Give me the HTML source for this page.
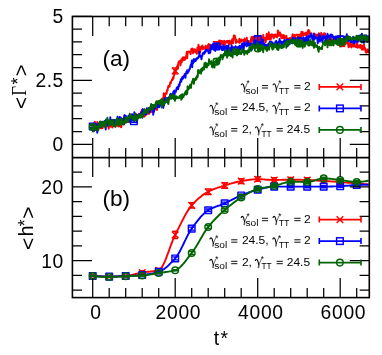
<!DOCTYPE html>
<html><head><meta charset="utf-8"><title>chart</title>
<style>
html,body{margin:0;padding:0;background:#fff;}
body{width:382px;height:355px;overflow:hidden;font-family:"Liberation Sans",sans-serif;}
svg{display:block;will-change:transform;opacity:0.999;}
</style></head><body>
<svg width="382" height="355" viewBox="0 0 382 355">
<clipPath id="c1"><rect x="72.4" y="16.5" width="296.9" height="141.1"/></clipPath>
<clipPath id="c2"><rect x="72.4" y="157.6" width="296.9" height="140.00000000000003"/></clipPath>
<g clip-path="url(#c1)" stroke-linejoin="round">
<path d="M92.7,128.5 L93.1,124.1 L93.5,124.4 L94.0,124.2 L94.4,128.1 L94.8,121.8 L95.2,130.1 L95.6,124.9 L96.1,127.2 L96.5,125.8 L96.9,129.8 L97.3,121.9 L97.7,125.6 L98.2,125.9 L98.6,129.2 L99.0,123.8 L99.4,126.2 L99.8,124.7 L100.3,127.1 L100.7,128.2 L101.1,124.1 L101.5,128.2 L101.9,127.5 L102.4,127.2 L102.8,127.9 L103.2,124.2 L103.6,125.0 L104.0,124.3 L104.5,125.2 L104.9,126.7 L105.3,123.5 L105.7,124.3 L106.1,124.1 L106.6,124.1 L107.0,124.3 L107.4,125.8 L107.8,122.9 L108.2,126.1 L108.7,128.8 L109.1,125.9 L109.5,123.8 L109.9,121.6 L110.3,121.9 L110.8,126.7 L111.2,123.6 L111.6,121.5 L112.0,123.4 L112.4,127.5 L112.9,124.1 L113.3,124.9 L113.7,123.8 L114.1,123.1 L114.5,121.5 L115.0,124.1 L115.4,123.7 L115.8,125.3 L116.2,125.8 L116.6,125.8 L117.1,124.3 L117.5,125.6 L117.9,122.2 L118.3,126.5 L118.7,126.2 L119.2,124.0 L119.6,125.9 L120.0,123.9 L120.4,126.9 L120.8,126.9 L121.3,127.3 L121.7,119.5 L122.1,119.5 L122.5,121.6 L122.9,122.0 L123.4,123.1 L123.8,120.8 L124.2,115.6 L124.6,119.5 L125.0,122.2 L125.5,120.6 L125.9,121.4 L126.3,120.5 L126.7,120.9 L127.1,122.0 L127.6,121.9 L128.0,121.7 L128.4,121.7 L128.8,119.9 L129.2,122.0 L129.7,120.7 L130.1,122.3 L130.5,122.3 L130.9,119.6 L131.3,117.7 L131.8,117.3 L132.2,118.9 L132.6,117.8 L133.0,116.9 L133.4,117.8 L133.9,115.8 L134.3,118.6 L134.7,115.8 L135.1,119.3 L135.5,117.3 L136.0,118.0 L136.4,115.1 L136.8,117.3 L137.2,117.9 L137.6,114.9 L138.1,116.2 L138.5,116.1 L138.9,113.6 L139.3,116.5 L139.7,117.2 L140.2,113.6 L140.6,115.9 L141.0,111.9 L141.4,113.3 L141.8,109.9 L142.3,115.6 L142.7,114.7 L143.1,112.5 L143.5,111.1 L143.9,115.2 L144.4,116.7 L144.8,109.3 L145.2,115.0 L145.6,115.4 L146.0,112.7 L146.5,110.0 L146.9,114.1 L147.3,112.1 L147.7,111.4 L148.1,110.0 L148.6,113.2 L149.0,114.0 L149.4,110.7 L149.8,112.2 L150.2,109.2 L150.7,112.4 L151.1,111.1 L151.5,110.5 L151.9,110.3 L152.3,111.7 L152.8,110.8 L153.2,111.0 L153.6,109.9 L154.0,109.8 L154.4,110.1 L154.9,109.0 L155.3,108.6 L155.7,106.5 L156.1,102.0 L156.5,108.2 L157.0,110.1 L157.4,106.2 L157.8,105.0 L158.2,104.2 L158.6,103.8 L159.1,103.4 L159.5,100.6 L159.9,101.6 L160.3,100.7 L160.7,101.8 L161.2,99.8 L161.6,100.4 L162.0,98.8 L162.4,100.2 L162.8,98.3 L163.3,100.8 L163.7,93.3 L164.1,95.2 L164.5,97.4 L164.9,99.3 L165.4,93.5 L165.8,93.3 L166.2,92.5 L166.6,93.9 L167.0,90.0 L167.5,90.6 L167.9,88.3 L168.3,85.9 L168.7,87.1 L169.1,86.1 L169.6,86.4 L170.0,83.2 L170.4,82.3 L170.8,83.2 L171.2,81.3 L171.7,80.6 L172.1,79.2 L172.5,79.9 L172.9,77.5 L173.3,78.8 L173.8,76.4 L174.2,74.7 L174.6,70.0 L175.0,72.5 L175.4,70.8 L175.9,70.4 L176.3,69.9 L176.7,66.9 L177.1,67.7 L177.5,65.3 L178.0,68.7 L178.4,62.6 L178.8,61.6 L179.2,61.3 L179.6,61.8 L180.1,60.7 L180.5,65.5 L180.9,61.1 L181.3,59.1 L181.7,62.6 L182.2,59.6 L182.6,57.5 L183.0,60.3 L183.4,59.3 L183.8,57.3 L184.3,60.1 L184.7,57.4 L185.1,59.7 L185.5,57.2 L185.9,57.9 L186.4,54.9 L186.8,51.7 L187.2,58.2 L187.6,52.4 L188.0,52.5 L188.5,51.5 L188.9,51.4 L189.3,51.7 L189.7,51.7 L190.1,52.3 L190.6,54.4 L191.0,51.4 L191.4,48.8 L191.8,49.5 L192.2,50.0 L192.7,48.6 L193.1,53.3 L193.5,50.8 L193.9,51.6 L194.3,51.8 L194.8,49.1 L195.2,49.9 L195.6,52.6 L196.0,52.3 L196.4,50.4 L196.9,53.9 L197.3,47.7 L197.7,49.2 L198.1,49.2 L198.5,44.6 L199.0,52.9 L199.4,49.8 L199.8,46.9 L200.2,52.3 L200.6,49.0 L201.1,48.7 L201.5,46.4 L201.9,48.1 L202.3,45.4 L202.7,49.2 L203.2,47.0 L203.6,47.4 L204.0,48.8 L204.4,47.4 L204.8,47.5 L205.3,47.7 L205.7,45.8 L206.1,48.8 L206.5,50.1 L206.9,48.3 L207.4,48.7 L207.8,45.5 L208.2,45.1 L208.6,43.9 L209.0,49.5 L209.5,46.7 L209.9,49.2 L210.3,44.7 L210.7,45.4 L211.1,46.2 L211.6,48.0 L212.0,45.8 L212.4,45.4 L212.8,45.2 L213.2,45.9 L213.7,43.6 L214.1,45.9 L214.5,45.1 L214.9,45.7 L215.3,46.7 L215.8,43.9 L216.2,44.6 L216.6,43.9 L217.0,45.4 L217.4,46.0 L217.9,42.4 L218.3,44.9 L218.7,47.6 L219.1,40.5 L219.5,41.4 L220.0,40.5 L220.4,42.0 L220.8,46.0 L221.2,42.5 L221.6,40.9 L222.1,43.5 L222.5,41.2 L222.9,44.5 L223.3,42.8 L223.7,44.8 L224.2,40.8 L224.6,47.0 L225.0,44.1 L225.4,43.3 L225.8,42.1 L226.3,41.2 L226.7,40.9 L227.1,42.1 L227.5,40.8 L227.9,42.7 L228.4,40.9 L228.8,43.9 L229.2,44.4 L229.6,40.6 L230.0,44.3 L230.5,41.5 L230.9,43.8 L231.3,42.5 L231.7,43.2 L232.1,39.2 L232.6,40.8 L233.0,43.3 L233.4,38.9 L233.8,35.5 L234.2,35.9 L234.7,35.5 L235.1,36.7 L235.5,40.1 L235.9,43.1 L236.3,39.4 L236.8,41.8 L237.2,41.3 L237.6,41.5 L238.0,41.7 L238.4,41.5 L238.9,42.5 L239.3,38.8 L239.7,42.9 L240.1,42.1 L240.5,39.7 L241.0,41.9 L241.4,39.5 L241.8,39.9 L242.2,40.9 L242.6,40.8 L243.1,40.0 L243.5,39.8 L243.9,40.6 L244.3,43.8 L244.7,38.5 L245.2,43.0 L245.6,42.2 L246.0,44.3 L246.4,44.4 L246.8,37.8 L247.3,43.9 L247.7,42.8 L248.1,41.8 L248.5,41.1 L248.9,43.5 L249.4,41.1 L249.8,44.6 L250.2,41.9 L250.6,44.6 L251.0,39.2 L251.5,37.0 L251.9,41.6 L252.3,41.5 L252.7,39.8 L253.1,36.8 L253.6,38.5 L254.0,40.6 L254.4,39.4 L254.8,40.0 L255.2,40.7 L255.7,39.1 L256.1,39.6 L256.5,37.4 L256.9,43.8 L257.3,39.6 L257.8,41.4 L258.2,38.8 L258.6,42.4 L259.0,37.1 L259.4,41.5 L259.9,39.5 L260.3,42.8 L260.7,35.7 L261.1,38.2 L261.5,39.0 L262.0,41.0 L262.4,38.2 L262.8,38.7 L263.2,34.9 L263.6,37.3 L264.1,38.9 L264.5,40.4 L264.9,37.9 L265.3,42.2 L265.7,42.1 L266.2,38.5 L266.6,34.0 L267.0,34.4 L267.4,35.6 L267.8,39.3 L268.3,37.4 L268.7,32.1 L269.1,36.3 L269.5,39.4 L269.9,35.6 L270.4,34.8 L270.8,39.7 L271.2,35.8 L271.6,34.3 L272.0,35.9 L272.5,35.5 L272.9,34.6 L273.3,37.5 L273.7,38.2 L274.1,36.9 L274.6,34.7 L275.0,36.9 L275.4,34.5 L275.8,35.0 L276.2,36.0 L276.7,35.4 L277.1,37.5 L277.5,34.4 L277.9,30.4 L278.3,31.7 L278.8,35.9 L279.2,33.2 L279.6,35.1 L280.0,32.4 L280.4,36.1 L280.9,34.2 L281.3,38.2 L281.7,34.9 L282.1,38.1 L282.5,37.2 L283.0,34.9 L283.4,38.4 L283.8,35.1 L284.2,35.5 L284.6,38.3 L285.1,36.8 L285.5,37.0 L285.9,37.2 L286.3,35.7 L286.7,40.4 L287.2,39.3 L287.6,38.8 L288.0,38.4 L288.4,39.5 L288.8,42.1 L289.3,40.3 L289.7,37.9 L290.1,40.1 L290.5,38.3 L290.9,38.7 L291.4,42.7 L291.8,37.3 L292.2,37.3 L292.6,34.1 L293.0,35.1 L293.5,38.4 L293.9,36.1 L294.3,38.3 L294.7,34.8 L295.1,35.8 L295.6,39.0 L296.0,40.3 L296.4,38.8 L296.8,40.1 L297.2,40.9 L297.7,40.1 L298.1,36.4 L298.5,37.9 L298.9,39.0 L299.3,36.9 L299.8,38.5 L300.2,34.6 L300.6,35.1 L301.0,37.3 L301.4,31.7 L301.9,33.3 L302.3,35.5 L302.7,31.9 L303.1,35.5 L303.5,33.6 L304.0,34.8 L304.4,34.6 L304.8,35.0 L305.2,33.0 L305.6,33.9 L306.1,32.4 L306.5,34.4 L306.9,36.3 L307.3,33.0 L307.7,32.8 L308.2,29.9 L308.6,33.6 L309.0,30.5 L309.4,30.8 L309.8,33.6 L310.3,33.4 L310.7,35.2 L311.1,36.2 L311.5,33.3 L311.9,35.0 L312.4,38.1 L312.8,37.3 L313.2,36.9 L313.6,38.0 L314.0,34.3 L314.5,36.8 L314.9,38.1 L315.3,38.3 L315.7,34.2 L316.1,35.5 L316.6,36.3 L317.0,34.9 L317.4,35.3 L317.8,37.6 L318.2,35.5 L318.7,33.1 L319.1,38.1 L319.5,36.7 L319.9,36.2 L320.3,34.7 L320.8,39.4 L321.2,32.8 L321.6,33.7 L322.0,36.6 L322.4,39.1 L322.9,38.9 L323.3,34.4 L323.7,36.0 L324.1,33.2 L324.5,37.9 L325.0,33.5 L325.4,36.4 L325.8,39.0 L326.2,37.0 L326.6,40.6 L327.1,36.4 L327.5,39.7 L327.9,40.8 L328.3,39.3 L328.7,42.7 L329.2,41.1 L329.6,37.5 L330.0,45.4 L330.4,41.5 L330.8,40.4 L331.3,38.0 L331.7,40.3 L332.1,39.4 L332.5,40.7 L332.9,40.3 L333.4,42.7 L333.8,39.9 L334.2,40.9 L334.6,40.2 L335.0,39.8 L335.5,40.0 L335.9,42.5 L336.3,41.7 L336.7,39.7 L337.1,39.3 L337.6,41.4 L338.0,43.4 L338.4,41.3 L338.8,44.7 L339.2,40.3 L339.7,42.4 L340.1,37.3 L340.5,41.1 L340.9,41.9 L341.3,44.1 L341.8,46.5 L342.2,43.2 L342.6,46.0 L343.0,45.1 L343.4,46.1 L343.9,43.1 L344.3,46.4 L344.7,41.6 L345.1,44.4 L345.5,41.7 L346.0,42.6 L346.4,40.4 L346.8,41.8 L347.2,43.9 L347.6,43.6 L348.1,41.2 L348.5,47.2 L348.9,45.2 L349.3,46.5 L349.7,46.5 L350.2,43.4 L350.6,40.8 L351.0,43.0 L351.4,47.5 L351.8,43.1 L352.3,46.5 L352.7,43.8 L353.1,45.8 L353.5,41.1 L353.9,46.6 L354.4,44.4 L354.8,46.3 L355.2,45.4 L355.6,47.1 L356.0,45.4 L356.5,47.2 L356.9,42.9 L357.3,44.0 L357.7,47.7 L358.1,46.1 L358.6,45.6 L359.0,46.2 L359.4,47.5 L359.8,45.2 L360.2,47.9 L360.7,44.9 L361.1,46.1 L361.5,48.4 L361.9,49.6 L362.3,45.6 L362.8,48.8 L363.2,45.6 L363.6,49.6 L364.0,44.8 L364.4,46.7 L364.9,48.3 L365.3,48.6 L365.7,52.3 L366.1,50.9 L366.5,52.8 L367.0,52.0 L367.4,49.4 L367.8,49.5 L368.2,52.1 L368.6,50.3 L369.1,49.8" stroke="#ff0000" stroke-width="1.9" fill="none"/>
<path d="M92.7,125.3V127.7M89.9,125.3H95.5M89.9,127.7H95.5" stroke="#ff0000" stroke-width="1.4" fill="none"/>
<path d="M89.4,123.2L96.0,129.8M89.4,129.8L96.0,123.2" stroke="#ff0000" stroke-width="1.45" fill="none"/>
<path d="M133.9,115.9V118.3M131.1,115.9H136.8M131.1,118.3H136.8" stroke="#ff0000" stroke-width="1.4" fill="none"/>
<path d="M130.6,113.8L137.2,120.4M130.6,120.4L137.2,113.8" stroke="#ff0000" stroke-width="1.45" fill="none"/>
<path d="M175.2,67.9V73.9M172.4,67.9H178.0M172.4,73.9H178.0" stroke="#ff0000" stroke-width="1.4" fill="none"/>
<path d="M171.9,67.6L178.5,74.2M171.9,74.2L178.5,67.6" stroke="#ff0000" stroke-width="1.45" fill="none"/>
<path d="M216.4,41.6V47.6M213.6,41.6H219.2M213.6,47.6H219.2" stroke="#ff0000" stroke-width="1.4" fill="none"/>
<path d="M213.1,41.3L219.8,47.9M213.1,47.9L219.8,41.3" stroke="#ff0000" stroke-width="1.45" fill="none"/>
<path d="M257.7,37.0V43.0M254.9,37.0H260.5M254.9,43.0H260.5" stroke="#ff0000" stroke-width="1.4" fill="none"/>
<path d="M254.4,36.7L261.0,43.3M254.4,43.3L261.0,36.7" stroke="#ff0000" stroke-width="1.45" fill="none"/>
<path d="M298.9,34.5V40.5M296.1,34.5H301.8M296.1,40.5H301.8" stroke="#ff0000" stroke-width="1.4" fill="none"/>
<path d="M295.6,34.2L302.2,40.8M295.6,40.8L302.2,34.2" stroke="#ff0000" stroke-width="1.45" fill="none"/>
<path d="M340.2,38.9V44.9M337.4,38.9H343.0M337.4,44.9H343.0" stroke="#ff0000" stroke-width="1.4" fill="none"/>
<path d="M336.9,38.6L343.5,45.2M336.9,45.2L343.5,38.6" stroke="#ff0000" stroke-width="1.45" fill="none"/>
<path d="M92.7,126.5 L93.1,127.9 L93.5,123.4 L94.0,131.3 L94.4,124.0 L94.8,126.1 L95.2,128.8 L95.6,124.9 L96.1,125.3 L96.5,125.9 L96.9,129.2 L97.3,132.8 L97.7,127.0 L98.2,123.8 L98.6,127.2 L99.0,124.5 L99.4,125.4 L99.8,127.2 L100.3,122.3 L100.7,124.7 L101.1,122.4 L101.5,123.9 L101.9,124.4 L102.4,121.6 L102.8,123.5 L103.2,123.4 L103.6,123.0 L104.0,121.7 L104.5,121.0 L104.9,124.5 L105.3,125.3 L105.7,129.5 L106.1,119.5 L106.6,124.4 L107.0,123.9 L107.4,125.7 L107.8,123.9 L108.2,120.9 L108.7,122.7 L109.1,123.1 L109.5,121.5 L109.9,123.5 L110.3,117.3 L110.8,124.6 L111.2,123.7 L111.6,120.2 L112.0,123.2 L112.4,122.2 L112.9,120.0 L113.3,121.6 L113.7,123.8 L114.1,120.6 L114.5,119.9 L115.0,120.6 L115.4,121.4 L115.8,124.0 L116.2,120.0 L116.6,122.3 L117.1,121.3 L117.5,116.8 L117.9,120.1 L118.3,120.5 L118.7,120.5 L119.2,121.0 L119.6,117.0 L120.0,121.3 L120.4,119.2 L120.8,117.4 L121.3,121.7 L121.7,122.1 L122.1,119.2 L122.5,122.1 L122.9,119.5 L123.4,120.0 L123.8,117.8 L124.2,124.2 L124.6,115.0 L125.0,120.0 L125.5,121.4 L125.9,115.9 L126.3,119.5 L126.7,119.8 L127.1,121.0 L127.6,121.6 L128.0,117.6 L128.4,115.8 L128.8,121.6 L129.2,121.4 L129.7,118.2 L130.1,119.8 L130.5,119.3 L130.9,119.5 L131.3,118.7 L131.8,120.7 L132.2,114.3 L132.6,120.1 L133.0,118.6 L133.4,117.1 L133.9,120.1 L134.3,112.2 L134.7,118.9 L135.1,116.6 L135.5,113.8 L136.0,117.2 L136.4,115.3 L136.8,122.0 L137.2,120.3 L137.6,117.6 L138.1,115.3 L138.5,115.9 L138.9,115.4 L139.3,114.7 L139.7,113.9 L140.2,114.3 L140.6,114.6 L141.0,113.1 L141.4,112.7 L141.8,111.4 L142.3,117.7 L142.7,109.0 L143.1,109.8 L143.5,112.7 L143.9,111.2 L144.4,113.1 L144.8,113.5 L145.2,114.5 L145.6,113.9 L146.0,110.8 L146.5,114.2 L146.9,108.2 L147.3,111.4 L147.7,110.5 L148.1,108.4 L148.6,111.5 L149.0,110.2 L149.4,112.3 L149.8,107.5 L150.2,111.2 L150.7,109.9 L151.1,108.2 L151.5,104.9 L151.9,107.7 L152.3,105.4 L152.8,105.0 L153.2,114.8 L153.6,110.9 L154.0,111.8 L154.4,107.3 L154.9,108.8 L155.3,108.7 L155.7,107.9 L156.1,107.2 L156.5,106.3 L157.0,102.1 L157.4,107.0 L157.8,105.2 L158.2,106.1 L158.6,103.4 L159.1,107.3 L159.5,103.2 L159.9,101.2 L160.3,105.8 L160.7,102.9 L161.2,101.3 L161.6,103.4 L162.0,104.3 L162.4,103.4 L162.8,104.2 L163.3,108.0 L163.7,104.2 L164.1,105.4 L164.5,98.2 L164.9,102.7 L165.4,102.7 L165.8,100.0 L166.2,98.1 L166.6,100.0 L167.0,99.1 L167.5,98.0 L167.9,100.8 L168.3,101.2 L168.7,98.7 L169.1,97.0 L169.6,98.2 L170.0,98.7 L170.4,98.1 L170.8,93.6 L171.2,94.5 L171.7,95.1 L172.1,94.7 L172.5,95.2 L172.9,96.0 L173.3,91.6 L173.8,92.0 L174.2,90.4 L174.6,94.9 L175.0,91.2 L175.4,91.4 L175.9,91.8 L176.3,89.4 L176.7,87.6 L177.1,87.7 L177.5,87.0 L178.0,89.3 L178.4,88.2 L178.8,84.4 L179.2,86.2 L179.6,85.3 L180.1,81.6 L180.5,82.4 L180.9,79.1 L181.3,81.5 L181.7,79.7 L182.2,77.3 L182.6,77.9 L183.0,78.7 L183.4,76.1 L183.8,76.7 L184.3,76.8 L184.7,73.9 L185.1,74.1 L185.5,77.8 L185.9,73.5 L186.4,71.8 L186.8,72.9 L187.2,70.2 L187.6,73.4 L188.0,70.9 L188.5,71.7 L188.9,70.6 L189.3,68.9 L189.7,69.4 L190.1,67.5 L190.6,65.3 L191.0,64.2 L191.4,64.3 L191.8,60.5 L192.2,67.2 L192.7,60.5 L193.1,63.3 L193.5,60.5 L193.9,59.0 L194.3,61.9 L194.8,61.0 L195.2,60.4 L195.6,61.1 L196.0,58.7 L196.4,59.5 L196.9,59.3 L197.3,57.7 L197.7,57.6 L198.1,58.3 L198.5,56.8 L199.0,56.5 L199.4,51.8 L199.8,56.1 L200.2,56.8 L200.6,55.6 L201.1,56.2 L201.5,59.3 L201.9,55.6 L202.3,56.1 L202.7,53.3 L203.2,53.2 L203.6,53.7 L204.0,52.1 L204.4,53.8 L204.8,51.5 L205.3,52.3 L205.7,49.7 L206.1,49.6 L206.5,50.8 L206.9,50.0 L207.4,50.1 L207.8,50.5 L208.2,50.5 L208.6,53.1 L209.0,53.3 L209.5,51.8 L209.9,49.6 L210.3,52.7 L210.7,46.8 L211.1,45.0 L211.6,49.2 L212.0,48.8 L212.4,48.0 L212.8,47.5 L213.2,44.5 L213.7,45.0 L214.1,49.6 L214.5,49.0 L214.9,45.9 L215.3,51.0 L215.8,45.3 L216.2,46.2 L216.6,48.1 L217.0,44.4 L217.4,46.3 L217.9,46.8 L218.3,46.5 L218.7,49.2 L219.1,48.7 L219.5,44.8 L220.0,45.9 L220.4,47.8 L220.8,47.9 L221.2,46.7 L221.6,49.2 L222.1,50.2 L222.5,47.3 L222.9,50.0 L223.3,45.2 L223.7,45.4 L224.2,49.8 L224.6,47.6 L225.0,47.0 L225.4,48.2 L225.8,47.1 L226.3,49.4 L226.7,45.6 L227.1,48.1 L227.5,53.9 L227.9,48.9 L228.4,45.4 L228.8,50.2 L229.2,49.9 L229.6,51.7 L230.0,49.3 L230.5,47.8 L230.9,51.7 L231.3,50.0 L231.7,45.3 L232.1,49.6 L232.6,48.1 L233.0,50.5 L233.4,47.3 L233.8,49.3 L234.2,48.0 L234.7,48.6 L235.1,47.2 L235.5,46.2 L235.9,46.9 L236.3,47.9 L236.8,47.5 L237.2,49.8 L237.6,47.2 L238.0,47.7 L238.4,50.3 L238.9,46.5 L239.3,47.6 L239.7,45.7 L240.1,46.6 L240.5,49.6 L241.0,47.0 L241.4,49.1 L241.8,44.1 L242.2,43.4 L242.6,46.9 L243.1,43.4 L243.5,50.7 L243.9,47.9 L244.3,42.5 L244.7,44.4 L245.2,43.7 L245.6,45.3 L246.0,44.4 L246.4,45.5 L246.8,46.2 L247.3,42.8 L247.7,41.0 L248.1,45.2 L248.5,43.9 L248.9,45.9 L249.4,43.7 L249.8,45.4 L250.2,44.4 L250.6,43.7 L251.0,43.5 L251.5,46.4 L251.9,49.8 L252.3,46.4 L252.7,43.7 L253.1,44.4 L253.6,43.0 L254.0,41.0 L254.4,43.6 L254.8,45.4 L255.2,42.1 L255.7,40.5 L256.1,43.1 L256.5,45.7 L256.9,44.3 L257.3,44.8 L257.8,47.8 L258.2,46.7 L258.6,44.7 L259.0,42.8 L259.4,43.9 L259.9,43.7 L260.3,45.4 L260.7,41.9 L261.1,46.7 L261.5,43.9 L262.0,42.7 L262.4,44.5 L262.8,39.5 L263.2,41.9 L263.6,43.3 L264.1,45.9 L264.5,43.8 L264.9,47.8 L265.3,44.7 L265.7,46.9 L266.2,44.9 L266.6,48.6 L267.0,46.0 L267.4,48.2 L267.8,45.2 L268.3,43.7 L268.7,44.4 L269.1,46.8 L269.5,42.4 L269.9,41.6 L270.4,43.5 L270.8,45.6 L271.2,41.6 L271.6,42.5 L272.0,43.8 L272.5,42.5 L272.9,44.1 L273.3,45.7 L273.7,43.8 L274.1,44.3 L274.6,45.5 L275.0,43.7 L275.4,41.7 L275.8,41.2 L276.2,40.9 L276.7,46.9 L277.1,43.4 L277.5,44.6 L277.9,44.7 L278.3,41.9 L278.8,44.3 L279.2,41.8 L279.6,39.0 L280.0,42.3 L280.4,40.8 L280.9,41.9 L281.3,44.0 L281.7,47.8 L282.1,41.7 L282.5,42.0 L283.0,43.2 L283.4,42.4 L283.8,42.2 L284.2,40.2 L284.6,39.9 L285.1,41.8 L285.5,40.4 L285.9,41.7 L286.3,40.1 L286.7,44.4 L287.2,39.4 L287.6,46.2 L288.0,41.1 L288.4,39.8 L288.8,39.7 L289.3,43.2 L289.7,44.1 L290.1,40.3 L290.5,42.2 L290.9,41.3 L291.4,41.1 L291.8,41.9 L292.2,43.4 L292.6,38.0 L293.0,37.7 L293.5,42.6 L293.9,41.9 L294.3,43.3 L294.7,38.9 L295.1,40.3 L295.6,44.9 L296.0,38.7 L296.4,41.6 L296.8,39.8 L297.2,40.1 L297.7,38.5 L298.1,43.3 L298.5,37.4 L298.9,38.4 L299.3,39.2 L299.8,43.1 L300.2,41.5 L300.6,42.5 L301.0,41.3 L301.4,41.9 L301.9,41.7 L302.3,43.6 L302.7,40.8 L303.1,37.3 L303.5,42.3 L304.0,40.4 L304.4,38.3 L304.8,39.7 L305.2,38.0 L305.6,43.8 L306.1,39.5 L306.5,36.4 L306.9,40.5 L307.3,38.7 L307.7,42.2 L308.2,40.0 L308.6,35.5 L309.0,37.9 L309.4,36.1 L309.8,36.7 L310.3,36.5 L310.7,33.6 L311.1,37.5 L311.5,35.2 L311.9,35.8 L312.4,38.3 L312.8,40.9 L313.2,36.1 L313.6,41.1 L314.0,33.5 L314.5,39.2 L314.9,37.1 L315.3,38.2 L315.7,36.7 L316.1,37.7 L316.6,38.0 L317.0,37.6 L317.4,39.7 L317.8,43.4 L318.2,37.8 L318.7,39.1 L319.1,36.2 L319.5,34.1 L319.9,41.6 L320.3,36.3 L320.8,37.4 L321.2,38.6 L321.6,40.2 L322.0,39.2 L322.4,42.4 L322.9,38.4 L323.3,35.4 L323.7,38.5 L324.1,38.2 L324.5,36.6 L325.0,37.5 L325.4,37.4 L325.8,41.0 L326.2,36.6 L326.6,35.5 L327.1,38.4 L327.5,33.6 L327.9,37.7 L328.3,37.5 L328.7,35.6 L329.2,35.8 L329.6,35.7 L330.0,39.1 L330.4,36.7 L330.8,34.5 L331.3,34.4 L331.7,36.4 L332.1,36.1 L332.5,35.1 L332.9,37.4 L333.4,36.7 L333.8,39.0 L334.2,38.0 L334.6,36.9 L335.0,38.5 L335.5,36.5 L335.9,39.3 L336.3,38.8 L336.7,37.3 L337.1,38.9 L337.6,37.6 L338.0,43.1 L338.4,37.1 L338.8,39.4 L339.2,39.7 L339.7,38.0 L340.1,39.3 L340.5,38.7 L340.9,39.7 L341.3,39.8 L341.8,41.2 L342.2,41.4 L342.6,39.3 L343.0,38.9 L343.4,39.4 L343.9,38.6 L344.3,36.7 L344.7,41.1 L345.1,39.5 L345.5,39.2 L346.0,36.3 L346.4,36.5 L346.8,34.3 L347.2,38.9 L347.6,40.4 L348.1,40.8 L348.5,39.0 L348.9,37.1 L349.3,39.8 L349.7,39.8 L350.2,41.4 L350.6,41.9 L351.0,40.4 L351.4,41.0 L351.8,42.1 L352.3,41.4 L352.7,40.7 L353.1,36.8 L353.5,40.1 L353.9,43.4 L354.4,41.1 L354.8,43.0 L355.2,40.4 L355.6,40.5 L356.0,41.5 L356.5,41.2 L356.9,40.7 L357.3,41.9 L357.7,41.9 L358.1,41.7 L358.6,36.0 L359.0,37.3 L359.4,37.8 L359.8,37.4 L360.2,35.2 L360.7,40.8 L361.1,36.4 L361.5,38.2 L361.9,33.7 L362.3,37.9 L362.8,37.7 L363.2,36.5 L363.6,39.5 L364.0,43.0 L364.4,36.5 L364.9,36.1 L365.3,40.6 L365.7,38.5 L366.1,37.1 L366.5,35.5 L367.0,39.3 L367.4,37.9 L367.8,40.9 L368.2,36.3 L368.6,38.1 L369.1,37.4" stroke="#0000ff" stroke-width="1.9" fill="none"/>
<path d="M92.7,125.3V127.7M89.9,125.3H95.5M89.9,127.7H95.5" stroke="#0000ff" stroke-width="1.4" fill="none"/>
<rect x="89.4" y="123.2" width="6.6" height="6.6" stroke="#0000ff" stroke-width="1.45" fill="none"/>
<path d="M133.9,119.9V122.3M131.1,119.9H136.8M131.1,122.3H136.8" stroke="#0000ff" stroke-width="1.4" fill="none"/>
<rect x="130.6" y="117.8" width="6.6" height="6.6" stroke="#0000ff" stroke-width="1.45" fill="none"/>
<path d="M216.4,43.4V49.4M213.6,43.4H219.2M213.6,49.4H219.2" stroke="#0000ff" stroke-width="1.4" fill="none"/>
<rect x="213.1" y="43.1" width="6.6" height="6.6" stroke="#0000ff" stroke-width="1.45" fill="none"/>
<path d="M257.7,36.0V42.0M254.9,36.0H260.5M254.9,42.0H260.5" stroke="#0000ff" stroke-width="1.4" fill="none"/>
<rect x="254.4" y="35.7" width="6.6" height="6.6" stroke="#0000ff" stroke-width="1.45" fill="none"/>
<path d="M298.9,38.4V44.4M296.1,38.4H301.8M296.1,44.4H301.8" stroke="#0000ff" stroke-width="1.4" fill="none"/>
<rect x="295.6" y="38.1" width="6.6" height="6.6" stroke="#0000ff" stroke-width="1.45" fill="none"/>
<path d="M340.2,36.2V42.2M337.4,36.2H343.0M337.4,42.2H343.0" stroke="#0000ff" stroke-width="1.4" fill="none"/>
<rect x="336.9" y="35.9" width="6.6" height="6.6" stroke="#0000ff" stroke-width="1.45" fill="none"/>
<path d="M92.7,132.4 L93.1,129.3 L93.5,129.2 L94.0,125.3 L94.4,128.6 L94.8,128.4 L95.2,128.7 L95.6,128.1 L96.1,128.7 L96.5,127.9 L96.9,126.5 L97.3,130.1 L97.7,129.4 L98.2,130.5 L98.6,126.6 L99.0,124.3 L99.4,124.0 L99.8,121.6 L100.3,126.9 L100.7,121.5 L101.1,121.8 L101.5,123.4 L101.9,127.2 L102.4,124.6 L102.8,122.0 L103.2,122.9 L103.6,125.6 L104.0,123.8 L104.5,122.0 L104.9,123.0 L105.3,124.8 L105.7,127.5 L106.1,120.0 L106.6,120.9 L107.0,120.8 L107.4,117.8 L107.8,121.7 L108.2,121.0 L108.7,125.4 L109.1,123.0 L109.5,120.0 L109.9,125.0 L110.3,123.1 L110.8,120.6 L111.2,123.6 L111.6,123.6 L112.0,123.1 L112.4,124.7 L112.9,119.6 L113.3,123.4 L113.7,126.1 L114.1,126.2 L114.5,126.3 L115.0,126.2 L115.4,126.9 L115.8,120.9 L116.2,124.4 L116.6,119.0 L117.1,121.4 L117.5,118.2 L117.9,124.5 L118.3,125.3 L118.7,121.6 L119.2,124.6 L119.6,119.8 L120.0,121.1 L120.4,121.0 L120.8,118.7 L121.3,122.0 L121.7,124.8 L122.1,118.9 L122.5,123.5 L122.9,121.0 L123.4,124.6 L123.8,121.9 L124.2,123.0 L124.6,122.4 L125.0,121.1 L125.5,117.7 L125.9,122.7 L126.3,117.1 L126.7,120.6 L127.1,121.2 L127.6,117.9 L128.0,119.3 L128.4,121.5 L128.8,119.1 L129.2,117.3 L129.7,113.8 L130.1,117.2 L130.5,117.5 L130.9,117.5 L131.3,115.7 L131.8,118.1 L132.2,116.7 L132.6,117.7 L133.0,119.2 L133.4,116.1 L133.9,116.8 L134.3,121.3 L134.7,118.6 L135.1,113.7 L135.5,117.1 L136.0,118.7 L136.4,120.3 L136.8,118.1 L137.2,116.6 L137.6,115.6 L138.1,118.3 L138.5,117.4 L138.9,114.8 L139.3,116.4 L139.7,116.1 L140.2,117.8 L140.6,114.5 L141.0,116.5 L141.4,116.8 L141.8,115.9 L142.3,113.1 L142.7,117.2 L143.1,112.9 L143.5,114.9 L143.9,112.6 L144.4,109.4 L144.8,113.2 L145.2,113.0 L145.6,112.3 L146.0,112.5 L146.5,110.0 L146.9,109.6 L147.3,109.9 L147.7,113.0 L148.1,111.2 L148.6,108.0 L149.0,109.7 L149.4,108.0 L149.8,107.8 L150.2,109.7 L150.7,106.7 L151.1,103.9 L151.5,105.9 L151.9,107.1 L152.3,106.8 L152.8,109.5 L153.2,104.9 L153.6,107.8 L154.0,106.5 L154.4,104.9 L154.9,106.0 L155.3,104.9 L155.7,102.8 L156.1,107.0 L156.5,101.2 L157.0,103.3 L157.4,103.1 L157.8,103.3 L158.2,100.9 L158.6,102.4 L159.1,101.4 L159.5,104.1 L159.9,100.6 L160.3,102.5 L160.7,101.5 L161.2,99.5 L161.6,107.6 L162.0,102.7 L162.4,99.7 L162.8,105.4 L163.3,100.3 L163.7,102.9 L164.1,104.6 L164.5,101.9 L164.9,102.1 L165.4,101.5 L165.8,102.0 L166.2,98.2 L166.6,98.8 L167.0,101.3 L167.5,102.8 L167.9,102.2 L168.3,104.1 L168.7,101.5 L169.1,98.2 L169.6,98.6 L170.0,94.4 L170.4,96.2 L170.8,95.5 L171.2,98.2 L171.7,98.8 L172.1,96.2 L172.5,96.7 L172.9,94.5 L173.3,97.5 L173.8,98.9 L174.2,99.1 L174.6,95.6 L175.0,100.8 L175.4,99.4 L175.9,97.2 L176.3,96.3 L176.7,97.0 L177.1,98.2 L177.5,97.2 L178.0,97.5 L178.4,97.7 L178.8,98.2 L179.2,98.1 L179.6,95.9 L180.1,96.9 L180.5,95.8 L180.9,94.9 L181.3,99.8 L181.7,94.7 L182.2,98.6 L182.6,94.2 L183.0,95.1 L183.4,97.0 L183.8,95.0 L184.3,95.3 L184.7,93.4 L185.1,92.3 L185.5,92.5 L185.9,91.0 L186.4,94.6 L186.8,91.1 L187.2,93.9 L187.6,86.2 L188.0,89.7 L188.5,89.3 L188.9,87.1 L189.3,88.3 L189.7,87.0 L190.1,84.8 L190.6,84.9 L191.0,88.0 L191.4,83.8 L191.8,83.2 L192.2,81.2 L192.7,81.4 L193.1,78.6 L193.5,80.3 L193.9,83.8 L194.3,80.2 L194.8,78.9 L195.2,79.3 L195.6,80.1 L196.0,77.4 L196.4,79.3 L196.9,77.0 L197.3,75.2 L197.7,77.1 L198.1,69.9 L198.5,72.3 L199.0,73.4 L199.4,71.4 L199.8,72.0 L200.2,70.2 L200.6,69.5 L201.1,73.7 L201.5,69.8 L201.9,68.5 L202.3,70.8 L202.7,67.8 L203.2,69.0 L203.6,67.2 L204.0,69.6 L204.4,63.3 L204.8,67.1 L205.3,65.5 L205.7,62.8 L206.1,67.3 L206.5,63.4 L206.9,67.5 L207.4,64.5 L207.8,64.3 L208.2,63.3 L208.6,65.2 L209.0,59.2 L209.5,63.1 L209.9,61.2 L210.3,63.7 L210.7,63.2 L211.1,64.1 L211.6,61.1 L212.0,66.5 L212.4,67.4 L212.8,63.2 L213.2,63.6 L213.7,64.0 L214.1,66.1 L214.5,67.7 L214.9,61.4 L215.3,62.4 L215.8,61.0 L216.2,61.0 L216.6,60.0 L217.0,63.2 L217.4,59.9 L217.9,63.5 L218.3,61.7 L218.7,58.1 L219.1,57.4 L219.5,57.3 L220.0,60.5 L220.4,56.4 L220.8,54.9 L221.2,56.9 L221.6,57.0 L222.1,55.2 L222.5,59.3 L222.9,56.8 L223.3,57.1 L223.7,54.0 L224.2,55.7 L224.6,54.8 L225.0,51.1 L225.4,55.4 L225.8,50.8 L226.3,54.4 L226.7,51.2 L227.1,57.7 L227.5,54.7 L227.9,55.6 L228.4,55.5 L228.8,51.6 L229.2,49.3 L229.6,53.6 L230.0,55.6 L230.5,54.5 L230.9,56.0 L231.3,56.1 L231.7,52.1 L232.1,54.7 L232.6,57.6 L233.0,52.2 L233.4,48.9 L233.8,52.6 L234.2,52.3 L234.7,54.3 L235.1,51.5 L235.5,53.1 L235.9,48.5 L236.3,54.2 L236.8,55.3 L237.2,55.3 L237.6,50.3 L238.0,54.2 L238.4,49.1 L238.9,54.0 L239.3,53.2 L239.7,50.6 L240.1,53.4 L240.5,52.7 L241.0,54.2 L241.4,52.7 L241.8,53.0 L242.2,48.9 L242.6,49.9 L243.1,51.1 L243.5,52.5 L243.9,52.0 L244.3,54.8 L244.7,50.8 L245.2,51.9 L245.6,52.8 L246.0,51.3 L246.4,52.8 L246.8,50.9 L247.3,54.0 L247.7,50.5 L248.1,52.3 L248.5,50.2 L248.9,52.4 L249.4,47.2 L249.8,49.8 L250.2,47.5 L250.6,48.8 L251.0,51.0 L251.5,45.7 L251.9,44.8 L252.3,45.4 L252.7,47.9 L253.1,44.2 L253.6,47.7 L254.0,45.2 L254.4,45.2 L254.8,47.3 L255.2,48.8 L255.7,46.4 L256.1,47.0 L256.5,47.8 L256.9,47.5 L257.3,42.2 L257.8,46.4 L258.2,47.0 L258.6,49.4 L259.0,51.4 L259.4,48.1 L259.9,46.9 L260.3,45.2 L260.7,47.4 L261.1,48.7 L261.5,49.6 L262.0,44.7 L262.4,47.8 L262.8,49.8 L263.2,52.2 L263.6,48.9 L264.1,47.0 L264.5,47.3 L264.9,48.0 L265.3,46.9 L265.7,49.4 L266.2,49.6 L266.6,49.3 L267.0,51.0 L267.4,47.3 L267.8,48.5 L268.3,47.1 L268.7,47.6 L269.1,49.9 L269.5,46.6 L269.9,42.8 L270.4,46.4 L270.8,45.6 L271.2,44.0 L271.6,45.6 L272.0,48.0 L272.5,49.7 L272.9,45.0 L273.3,47.9 L273.7,48.5 L274.1,44.1 L274.6,46.5 L275.0,46.9 L275.4,47.0 L275.8,43.6 L276.2,46.0 L276.7,47.9 L277.1,49.1 L277.5,49.6 L277.9,45.6 L278.3,50.1 L278.8,47.7 L279.2,43.7 L279.6,47.5 L280.0,44.9 L280.4,46.6 L280.9,45.6 L281.3,48.0 L281.7,47.1 L282.1,45.4 L282.5,47.8 L283.0,46.2 L283.4,44.5 L283.8,47.4 L284.2,44.1 L284.6,43.9 L285.1,44.3 L285.5,42.1 L285.9,43.0 L286.3,47.7 L286.7,41.4 L287.2,43.1 L287.6,41.0 L288.0,41.6 L288.4,45.4 L288.8,44.0 L289.3,41.0 L289.7,42.1 L290.1,40.1 L290.5,40.1 L290.9,40.2 L291.4,40.0 L291.8,42.7 L292.2,43.3 L292.6,42.8 L293.0,41.7 L293.5,39.6 L293.9,42.5 L294.3,40.9 L294.7,44.2 L295.1,43.5 L295.6,44.4 L296.0,42.3 L296.4,39.2 L296.8,44.6 L297.2,44.7 L297.7,40.0 L298.1,43.3 L298.5,45.5 L298.9,40.4 L299.3,45.9 L299.8,42.1 L300.2,41.2 L300.6,46.3 L301.0,44.7 L301.4,42.6 L301.9,45.7 L302.3,40.5 L302.7,47.9 L303.1,42.7 L303.5,44.9 L304.0,43.7 L304.4,45.7 L304.8,46.7 L305.2,43.0 L305.6,44.9 L306.1,42.2 L306.5,42.4 L306.9,43.3 L307.3,41.8 L307.7,41.7 L308.2,45.4 L308.6,43.3 L309.0,45.9 L309.4,44.2 L309.8,40.9 L310.3,39.4 L310.7,42.5 L311.1,45.0 L311.5,43.7 L311.9,41.9 L312.4,45.6 L312.8,41.0 L313.2,41.4 L313.6,44.0 L314.0,47.9 L314.5,45.0 L314.9,42.6 L315.3,45.8 L315.7,46.3 L316.1,46.9 L316.6,45.3 L317.0,45.2 L317.4,46.9 L317.8,47.5 L318.2,50.5 L318.7,51.8 L319.1,46.8 L319.5,47.5 L319.9,48.5 L320.3,48.3 L320.8,48.9 L321.2,48.4 L321.6,47.4 L322.0,49.0 L322.4,46.0 L322.9,44.3 L323.3,42.7 L323.7,43.3 L324.1,42.9 L324.5,40.9 L325.0,45.4 L325.4,44.3 L325.8,43.6 L326.2,42.6 L326.6,41.3 L327.1,42.1 L327.5,47.2 L327.9,39.4 L328.3,44.0 L328.7,44.7 L329.2,43.7 L329.6,42.6 L330.0,44.8 L330.4,41.2 L330.8,43.7 L331.3,45.4 L331.7,40.1 L332.1,40.6 L332.5,42.8 L332.9,44.8 L333.4,45.5 L333.8,44.0 L334.2,40.8 L334.6,40.5 L335.0,42.8 L335.5,43.4 L335.9,40.7 L336.3,42.7 L336.7,43.2 L337.1,44.4 L337.6,40.6 L338.0,42.8 L338.4,39.4 L338.8,41.3 L339.2,42.2 L339.7,44.7 L340.1,46.6 L340.5,42.2 L340.9,42.4 L341.3,43.7 L341.8,39.8 L342.2,44.0 L342.6,40.2 L343.0,45.1 L343.4,44.4 L343.9,42.1 L344.3,39.2 L344.7,43.9 L345.1,41.2 L345.5,40.1 L346.0,41.4 L346.4,36.4 L346.8,40.2 L347.2,41.1 L347.6,38.8 L348.1,38.7 L348.5,36.1 L348.9,39.1 L349.3,38.3 L349.7,38.2 L350.2,37.1 L350.6,39.6 L351.0,39.5 L351.4,38.1 L351.8,38.3 L352.3,39.1 L352.7,39.8 L353.1,38.2 L353.5,37.3 L353.9,37.2 L354.4,38.4 L354.8,38.9 L355.2,39.1 L355.6,37.2 L356.0,38.3 L356.5,35.7 L356.9,40.0 L357.3,36.9 L357.7,38.6 L358.1,35.8 L358.6,37.5 L359.0,36.6 L359.4,40.6 L359.8,38.0 L360.2,37.5 L360.7,35.5 L361.1,36.6 L361.5,39.7 L361.9,42.6 L362.3,36.7 L362.8,37.2 L363.2,38.4 L363.6,37.0 L364.0,35.1 L364.4,38.2 L364.9,39.7 L365.3,35.3 L365.7,38.5 L366.1,40.2 L366.5,39.9 L367.0,36.9 L367.4,41.8 L367.8,39.3 L368.2,37.2 L368.6,40.6 L369.1,37.0" stroke="#006400" stroke-width="1.9" fill="none"/>
<path d="M92.7,125.8V128.2M89.9,125.8H95.5M89.9,128.2H95.5" stroke="#006400" stroke-width="1.4" fill="none"/>
<circle cx="92.7" cy="127.0" r="3.3" stroke="#006400" stroke-width="1.45" fill="none"/>
<path d="M216.4,58.6V64.6M213.6,58.6H219.2M213.6,64.6H219.2" stroke="#006400" stroke-width="1.4" fill="none"/>
<circle cx="216.4" cy="61.6" r="3.3" stroke="#006400" stroke-width="1.45" fill="none"/>
<path d="M257.7,45.4V51.4M254.9,45.4H260.5M254.9,51.4H260.5" stroke="#006400" stroke-width="1.4" fill="none"/>
<circle cx="257.7" cy="48.4" r="3.3" stroke="#006400" stroke-width="1.45" fill="none"/>
<path d="M298.9,40.6V46.6M296.1,40.6H301.8M296.1,46.6H301.8" stroke="#006400" stroke-width="1.4" fill="none"/>
<circle cx="298.9" cy="43.6" r="3.3" stroke="#006400" stroke-width="1.45" fill="none"/>
<path d="M340.2,38.7V44.7M337.4,38.7H343.0M337.4,44.7H343.0" stroke="#006400" stroke-width="1.4" fill="none"/>
<circle cx="340.2" cy="41.7" r="3.3" stroke="#006400" stroke-width="1.45" fill="none"/>
</g>
<g clip-path="url(#c2)" stroke-linejoin="round">
<path d="M92.7,275.7 L93.7,275.8 L94.7,275.9 L95.7,276.0 L96.7,276.1 L97.7,276.1 L98.7,276.2 L99.7,276.3 L100.7,276.3 L101.7,276.4 L102.7,276.4 L103.7,276.5 L104.7,276.5 L105.7,276.6 L106.7,276.6 L107.7,276.6 L108.7,276.6 L109.7,276.6 L110.7,276.6 L111.7,276.6 L112.7,276.6 L113.7,276.5 L114.7,276.5 L115.7,276.5 L116.7,276.5 L117.7,276.4 L118.7,276.4 L119.7,276.3 L120.7,276.3 L121.7,276.2 L122.7,276.2 L123.7,276.1 L124.7,276.1 L125.7,276.0 L126.7,275.9 L127.7,275.8 L128.7,275.6 L129.7,275.5 L130.7,275.3 L131.7,275.0 L132.7,274.8 L133.7,274.5 L134.7,274.3 L135.7,274.0 L136.7,273.7 L137.7,273.5 L138.7,273.2 L139.7,273.0 L140.7,272.8 L141.7,272.6 L142.7,272.4 L143.7,272.3 L144.7,272.1 L145.7,272.0 L146.7,271.9 L147.7,271.8 L148.7,271.7 L149.7,271.6 L150.7,271.5 L151.7,271.4 L152.7,271.3 L153.7,271.2 L154.7,271.0 L155.7,270.9 L156.7,270.7 L157.7,270.4 L158.7,270.2 L159.7,269.7 L160.7,268.8 L161.7,267.5 L162.7,265.8 L163.7,263.9 L164.7,261.7 L165.7,259.3 L166.7,256.7 L167.7,254.0 L168.7,251.3 L169.7,248.5 L170.7,245.7 L171.7,243.1 L172.7,240.5 L173.7,238.1 L174.7,235.9 L175.7,233.9 L176.7,231.9 L177.7,229.9 L178.7,227.9 L179.7,225.9 L180.7,223.9 L181.7,221.9 L182.7,219.9 L183.7,218.0 L184.7,216.1 L185.7,214.3 L186.7,212.6 L187.7,210.9 L188.7,209.4 L189.7,207.9 L190.7,206.6 L191.7,205.4 L192.7,204.3 L193.7,203.2 L194.7,202.2 L195.7,201.2 L196.7,200.2 L197.7,199.2 L198.7,198.3 L199.7,197.5 L200.7,196.7 L201.7,195.9 L202.7,195.1 L203.7,194.4 L204.7,193.7 L205.7,193.1 L206.7,192.5 L207.7,192.0 L208.7,191.4 L209.7,191.0 L210.7,190.5 L211.7,190.0 L212.7,189.6 L213.7,189.2 L214.7,188.8 L215.7,188.4 L216.7,188.1 L217.7,187.7 L218.7,187.4 L219.7,187.1 L220.7,186.8 L221.7,186.4 L222.7,186.1 L223.7,185.8 L224.7,185.5 L225.7,185.2 L226.7,184.9 L227.7,184.6 L228.7,184.3 L229.7,183.9 L230.7,183.6 L231.7,183.3 L232.7,183.1 L233.7,182.8 L234.7,182.5 L235.7,182.3 L236.7,182.0 L237.7,181.8 L238.7,181.6 L239.7,181.4 L240.7,181.2 L241.7,181.0 L242.7,180.9 L243.7,180.7 L244.7,180.5 L245.7,180.4 L246.7,180.2 L247.7,180.1 L248.7,179.9 L249.7,179.8 L250.7,179.7 L251.7,179.5 L252.7,179.4 L253.7,179.4 L254.7,179.3 L255.7,179.2 L256.7,179.2 L257.7,179.2 L258.7,179.2 L259.7,179.2 L260.7,179.3 L261.7,179.3 L262.7,179.4 L263.7,179.4 L264.7,179.5 L265.7,179.6 L266.7,179.7 L267.7,179.7 L268.7,179.8 L269.7,179.9 L270.7,179.9 L271.7,180.0 L272.7,180.0 L273.7,180.0 L274.7,180.0 L275.7,180.0 L276.7,180.0 L277.7,180.0 L278.7,179.9 L279.7,179.9 L280.7,179.9 L281.7,179.9 L282.7,179.8 L283.7,179.8 L284.7,179.8 L285.7,179.8 L286.7,179.7 L287.7,179.7 L288.7,179.7 L289.7,179.7 L290.7,179.7 L291.7,179.7 L292.7,179.7 L293.7,179.7 L294.7,179.7 L295.7,179.7 L296.7,179.8 L297.7,179.8 L298.7,179.8 L299.7,179.8 L300.7,179.8 L301.7,179.9 L302.7,179.9 L303.7,179.9 L304.7,179.9 L305.7,180.0 L306.7,180.0 L307.7,180.0 L308.7,180.1 L309.7,180.1 L310.7,180.1 L311.7,180.2 L312.7,180.3 L313.7,180.3 L314.7,180.4 L315.7,180.4 L316.7,180.5 L317.7,180.6 L318.7,180.7 L319.7,180.7 L320.7,180.8 L321.7,180.9 L322.7,180.9 L323.7,181.0 L324.7,181.1 L325.7,181.1 L326.7,181.2 L327.7,181.2 L328.7,181.3 L329.7,181.3 L330.7,181.4 L331.7,181.5 L332.7,181.5 L333.7,181.6 L334.7,181.6 L335.7,181.7 L336.7,181.8 L337.7,181.8 L338.7,181.9 L339.7,182.0 L340.7,182.0 L341.7,182.1 L342.7,182.2 L343.7,182.3 L344.7,182.4 L345.7,182.5 L346.7,182.6 L347.7,182.7 L348.7,182.8 L349.7,182.8 L350.7,182.9 L351.7,183.0 L352.7,183.1 L353.7,183.2 L354.7,183.3 L355.7,183.4 L356.7,183.5 L357.7,183.6 L358.7,183.7 L359.7,183.7 L360.7,183.8 L361.7,183.9 L362.7,184.0 L363.7,184.1 L364.7,184.1 L365.7,184.2 L366.7,184.3 L367.7,184.4 L368.7,184.5" stroke="#ff0000" stroke-width="1.9" fill="none"/>
<path d="M92.7,275.2V276.2M89.9,275.2H95.5M89.9,276.2H95.5" stroke="#ff0000" stroke-width="1.4" fill="none"/>
<path d="M89.4,272.4L96.0,279.0M89.4,279.0L96.0,272.4" stroke="#ff0000" stroke-width="1.45" fill="none"/>
<path d="M109.2,276.1V277.1M106.4,276.1H112.0M106.4,277.1H112.0" stroke="#ff0000" stroke-width="1.4" fill="none"/>
<path d="M105.9,273.3L112.5,279.9M105.9,279.9L112.5,273.3" stroke="#ff0000" stroke-width="1.45" fill="none"/>
<path d="M125.7,275.5V276.5M122.9,275.5H128.5M122.9,276.5H128.5" stroke="#ff0000" stroke-width="1.4" fill="none"/>
<path d="M122.4,272.7L129.0,279.3M122.4,279.3L129.0,272.7" stroke="#ff0000" stroke-width="1.45" fill="none"/>
<path d="M142.2,270.7V274.3M139.4,270.7H145.0M139.4,274.3H145.0" stroke="#ff0000" stroke-width="1.4" fill="none"/>
<path d="M138.9,269.2L145.5,275.8M138.9,275.8L145.5,269.2" stroke="#ff0000" stroke-width="1.45" fill="none"/>
<path d="M158.7,268.4V272.0M155.9,268.4H161.5M155.9,272.0H161.5" stroke="#ff0000" stroke-width="1.4" fill="none"/>
<path d="M155.4,266.9L162.0,273.5M155.4,273.5L162.0,266.9" stroke="#ff0000" stroke-width="1.45" fill="none"/>
<path d="M175.2,231.3V238.5M172.4,231.3H178.0M172.4,238.5H178.0" stroke="#ff0000" stroke-width="1.4" fill="none"/>
<path d="M171.9,231.6L178.5,238.2M171.9,238.2L178.5,231.6" stroke="#ff0000" stroke-width="1.45" fill="none"/>
<path d="M191.7,202.8V208.0M188.9,202.8H194.5M188.9,208.0H194.5" stroke="#ff0000" stroke-width="1.4" fill="none"/>
<path d="M188.4,202.1L195.0,208.7M188.4,208.7L195.0,202.1" stroke="#ff0000" stroke-width="1.45" fill="none"/>
<path d="M208.2,188.9V194.5M205.4,188.9H211.0M205.4,194.5H211.0" stroke="#ff0000" stroke-width="1.4" fill="none"/>
<path d="M204.9,188.4L211.5,195.0M204.9,195.0L211.5,188.4" stroke="#ff0000" stroke-width="1.45" fill="none"/>
<path d="M224.7,182.7V188.3M221.9,182.7H227.5M221.9,188.3H227.5" stroke="#ff0000" stroke-width="1.4" fill="none"/>
<path d="M221.4,182.2L228.0,188.8M221.4,188.8L228.0,182.2" stroke="#ff0000" stroke-width="1.45" fill="none"/>
<path d="M241.2,178.7V183.5M238.4,178.7H244.0M238.4,183.5H244.0" stroke="#ff0000" stroke-width="1.4" fill="none"/>
<path d="M237.9,177.8L244.5,184.4M237.9,184.4L244.5,177.8" stroke="#ff0000" stroke-width="1.45" fill="none"/>
<path d="M257.7,177.0V181.4M254.9,177.0H260.5M254.9,181.4H260.5" stroke="#ff0000" stroke-width="1.4" fill="none"/>
<path d="M254.4,175.9L261.0,182.5M254.4,182.5L261.0,175.9" stroke="#ff0000" stroke-width="1.45" fill="none"/>
<path d="M274.2,177.8V182.2M271.4,177.8H277.0M271.4,182.2H277.0" stroke="#ff0000" stroke-width="1.4" fill="none"/>
<path d="M270.9,176.7L277.5,183.3M270.9,183.3L277.5,176.7" stroke="#ff0000" stroke-width="1.45" fill="none"/>
<path d="M290.7,177.5V181.9M287.9,177.5H293.5M287.9,181.9H293.5" stroke="#ff0000" stroke-width="1.4" fill="none"/>
<path d="M287.4,176.4L294.0,183.0M287.4,183.0L294.0,176.4" stroke="#ff0000" stroke-width="1.45" fill="none"/>
<path d="M307.2,177.8V182.2M304.4,177.8H310.0M304.4,182.2H310.0" stroke="#ff0000" stroke-width="1.4" fill="none"/>
<path d="M303.9,176.7L310.5,183.3M303.9,183.3L310.5,176.7" stroke="#ff0000" stroke-width="1.45" fill="none"/>
<path d="M323.7,178.8V183.2M320.9,178.8H326.5M320.9,183.2H326.5" stroke="#ff0000" stroke-width="1.4" fill="none"/>
<path d="M320.4,177.7L327.0,184.3M320.4,184.3L327.0,177.7" stroke="#ff0000" stroke-width="1.45" fill="none"/>
<path d="M340.2,179.8V184.2M337.4,179.8H343.0M337.4,184.2H343.0" stroke="#ff0000" stroke-width="1.4" fill="none"/>
<path d="M336.9,178.7L343.5,185.3M336.9,185.3L343.5,178.7" stroke="#ff0000" stroke-width="1.45" fill="none"/>
<path d="M356.7,181.3V185.7M353.9,181.3H359.5M353.9,185.7H359.5" stroke="#ff0000" stroke-width="1.4" fill="none"/>
<path d="M353.4,180.2L360.0,186.8M353.4,186.8L360.0,180.2" stroke="#ff0000" stroke-width="1.45" fill="none"/>
<path d="M92.7,276.0 L93.7,276.1 L94.7,276.1 L95.7,276.2 L96.7,276.3 L97.7,276.3 L98.7,276.4 L99.7,276.4 L100.7,276.4 L101.7,276.5 L102.7,276.5 L103.7,276.5 L104.7,276.6 L105.7,276.6 L106.7,276.6 L107.7,276.6 L108.7,276.6 L109.7,276.6 L110.7,276.6 L111.7,276.6 L112.7,276.6 L113.7,276.5 L114.7,276.5 L115.7,276.5 L116.7,276.4 L117.7,276.4 L118.7,276.3 L119.7,276.3 L120.7,276.2 L121.7,276.2 L122.7,276.1 L123.7,276.1 L124.7,276.0 L125.7,276.0 L126.7,276.0 L127.7,275.9 L128.7,275.9 L129.7,275.8 L130.7,275.8 L131.7,275.7 L132.7,275.7 L133.7,275.6 L134.7,275.6 L135.7,275.5 L136.7,275.4 L137.7,275.4 L138.7,275.3 L139.7,275.2 L140.7,275.1 L141.7,275.0 L142.7,275.0 L143.7,274.8 L144.7,274.7 L145.7,274.6 L146.7,274.5 L147.7,274.3 L148.7,274.2 L149.7,274.0 L150.7,273.8 L151.7,273.6 L152.7,273.4 L153.7,273.2 L154.7,272.9 L155.7,272.7 L156.7,272.4 L157.7,272.1 L158.7,271.8 L159.7,271.4 L160.7,271.0 L161.7,270.5 L162.7,269.9 L163.7,269.3 L164.7,268.6 L165.7,267.8 L166.7,267.0 L167.7,266.1 L168.7,265.2 L169.7,264.2 L170.7,263.2 L171.7,262.2 L172.7,261.1 L173.7,260.1 L174.7,259.0 L175.7,257.8 L176.7,256.5 L177.7,255.0 L178.7,253.3 L179.7,251.5 L180.7,249.6 L181.7,247.6 L182.7,245.6 L183.7,243.5 L184.7,241.4 L185.7,239.4 L186.7,237.3 L187.7,235.3 L188.7,233.5 L189.7,231.7 L190.7,230.1 L191.7,228.6 L192.7,227.2 L193.7,225.9 L194.7,224.5 L195.7,223.2 L196.7,221.8 L197.7,220.6 L198.7,219.3 L199.7,218.1 L200.7,216.9 L201.7,215.8 L202.7,214.8 L203.7,213.8 L204.7,212.8 L205.7,212.0 L206.7,211.2 L207.7,210.5 L208.7,209.9 L209.7,209.3 L210.7,208.8 L211.7,208.3 L212.7,207.9 L213.7,207.5 L214.7,207.1 L215.7,206.7 L216.7,206.3 L217.7,206.0 L218.7,205.6 L219.7,205.3 L220.7,204.9 L221.7,204.5 L222.7,204.1 L223.7,203.7 L224.7,203.3 L225.7,202.8 L226.7,202.4 L227.7,201.9 L228.7,201.4 L229.7,200.9 L230.7,200.4 L231.7,199.9 L232.7,199.4 L233.7,198.9 L234.7,198.4 L235.7,197.9 L236.7,197.4 L237.7,196.9 L238.7,196.5 L239.7,196.0 L240.7,195.6 L241.7,195.2 L242.7,194.8 L243.7,194.4 L244.7,194.0 L245.7,193.6 L246.7,193.2 L247.7,192.9 L248.7,192.5 L249.7,192.1 L250.7,191.8 L251.7,191.4 L252.7,191.1 L253.7,190.8 L254.7,190.5 L255.7,190.2 L256.7,190.0 L257.7,189.7 L258.7,189.5 L259.7,189.2 L260.7,188.9 L261.7,188.7 L262.7,188.4 L263.7,188.2 L264.7,187.9 L265.7,187.7 L266.7,187.5 L267.7,187.3 L268.7,187.1 L269.7,186.9 L270.7,186.8 L271.7,186.7 L272.7,186.6 L273.7,186.6 L274.7,186.6 L275.7,186.6 L276.7,186.6 L277.7,186.6 L278.7,186.6 L279.7,186.6 L280.7,186.6 L281.7,186.6 L282.7,186.6 L283.7,186.6 L284.7,186.6 L285.7,186.6 L286.7,186.6 L287.7,186.6 L288.7,186.6 L289.7,186.6 L290.7,186.6 L291.7,186.6 L292.7,186.6 L293.7,186.6 L294.7,186.6 L295.7,186.6 L296.7,186.6 L297.7,186.6 L298.7,186.6 L299.7,186.6 L300.7,186.6 L301.7,186.6 L302.7,186.6 L303.7,186.6 L304.7,186.6 L305.7,186.6 L306.7,186.6 L307.7,186.6 L308.7,186.6 L309.7,186.6 L310.7,186.6 L311.7,186.6 L312.7,186.6 L313.7,186.6 L314.7,186.6 L315.7,186.6 L316.7,186.6 L317.7,186.6 L318.7,186.6 L319.7,186.6 L320.7,186.6 L321.7,186.6 L322.7,186.6 L323.7,186.6 L324.7,186.6 L325.7,186.6 L326.7,186.6 L327.7,186.6 L328.7,186.6 L329.7,186.5 L330.7,186.5 L331.7,186.5 L332.7,186.5 L333.7,186.4 L334.7,186.4 L335.7,186.4 L336.7,186.3 L337.7,186.3 L338.7,186.3 L339.7,186.2 L340.7,186.2 L341.7,186.1 L342.7,186.1 L343.7,186.0 L344.7,185.9 L345.7,185.8 L346.7,185.8 L347.7,185.7 L348.7,185.6 L349.7,185.5 L350.7,185.4 L351.7,185.3 L352.7,185.2 L353.7,185.2 L354.7,185.1 L355.7,185.0 L356.7,185.0 L357.7,185.0 L358.7,184.9 L359.7,184.9 L360.7,184.9 L361.7,184.8 L362.7,184.8 L363.7,184.8 L364.7,184.8 L365.7,184.7 L366.7,184.7 L367.7,184.7 L368.7,184.7" stroke="#0000ff" stroke-width="1.9" fill="none"/>
<path d="M92.7,275.5V276.5M89.9,275.5H95.5M89.9,276.5H95.5" stroke="#0000ff" stroke-width="1.4" fill="none"/>
<rect x="89.4" y="272.7" width="6.6" height="6.6" stroke="#0000ff" stroke-width="1.45" fill="none"/>
<path d="M109.2,276.1V277.1M106.4,276.1H112.0M106.4,277.1H112.0" stroke="#0000ff" stroke-width="1.4" fill="none"/>
<rect x="105.9" y="273.3" width="6.6" height="6.6" stroke="#0000ff" stroke-width="1.45" fill="none"/>
<path d="M125.7,275.5V276.5M122.9,275.5H128.5M122.9,276.5H128.5" stroke="#0000ff" stroke-width="1.4" fill="none"/>
<rect x="122.4" y="272.7" width="6.6" height="6.6" stroke="#0000ff" stroke-width="1.45" fill="none"/>
<path d="M142.2,274.5V275.5M139.4,274.5H145.0M139.4,275.5H145.0" stroke="#0000ff" stroke-width="1.4" fill="none"/>
<rect x="138.9" y="271.7" width="6.6" height="6.6" stroke="#0000ff" stroke-width="1.45" fill="none"/>
<path d="M158.7,271.3V272.3M155.9,271.3H161.5M155.9,272.3H161.5" stroke="#0000ff" stroke-width="1.4" fill="none"/>
<rect x="155.4" y="268.5" width="6.6" height="6.6" stroke="#0000ff" stroke-width="1.45" fill="none"/>
<path d="M175.2,256.9V259.9M172.4,256.9H178.0M172.4,259.9H178.0" stroke="#0000ff" stroke-width="1.4" fill="none"/>
<rect x="171.9" y="255.1" width="6.6" height="6.6" stroke="#0000ff" stroke-width="1.45" fill="none"/>
<path d="M191.7,227.1V230.1M188.9,227.1H194.5M188.9,230.1H194.5" stroke="#0000ff" stroke-width="1.4" fill="none"/>
<rect x="188.4" y="225.3" width="6.6" height="6.6" stroke="#0000ff" stroke-width="1.45" fill="none"/>
<path d="M208.2,209.0V211.4M205.4,209.0H211.0M205.4,211.4H211.0" stroke="#0000ff" stroke-width="1.4" fill="none"/>
<rect x="204.9" y="206.9" width="6.6" height="6.6" stroke="#0000ff" stroke-width="1.45" fill="none"/>
<path d="M224.7,202.1V204.5M221.9,202.1H227.5M221.9,204.5H227.5" stroke="#0000ff" stroke-width="1.4" fill="none"/>
<rect x="221.4" y="200.0" width="6.6" height="6.6" stroke="#0000ff" stroke-width="1.45" fill="none"/>
<path d="M241.2,194.2V196.6M238.4,194.2H244.0M238.4,196.6H244.0" stroke="#0000ff" stroke-width="1.4" fill="none"/>
<rect x="237.9" y="192.1" width="6.6" height="6.6" stroke="#0000ff" stroke-width="1.45" fill="none"/>
<path d="M257.7,188.5V190.9M254.9,188.5H260.5M254.9,190.9H260.5" stroke="#0000ff" stroke-width="1.4" fill="none"/>
<rect x="254.4" y="186.4" width="6.6" height="6.6" stroke="#0000ff" stroke-width="1.45" fill="none"/>
<path d="M274.2,185.4V187.8M271.4,185.4H277.0M271.4,187.8H277.0" stroke="#0000ff" stroke-width="1.4" fill="none"/>
<rect x="270.9" y="183.3" width="6.6" height="6.6" stroke="#0000ff" stroke-width="1.45" fill="none"/>
<path d="M290.7,185.4V187.8M287.9,185.4H293.5M287.9,187.8H293.5" stroke="#0000ff" stroke-width="1.4" fill="none"/>
<rect x="287.4" y="183.3" width="6.6" height="6.6" stroke="#0000ff" stroke-width="1.45" fill="none"/>
<path d="M307.2,185.4V187.8M304.4,185.4H310.0M304.4,187.8H310.0" stroke="#0000ff" stroke-width="1.4" fill="none"/>
<rect x="303.9" y="183.3" width="6.6" height="6.6" stroke="#0000ff" stroke-width="1.45" fill="none"/>
<path d="M323.7,185.4V187.8M320.9,185.4H326.5M320.9,187.8H326.5" stroke="#0000ff" stroke-width="1.4" fill="none"/>
<rect x="320.4" y="183.3" width="6.6" height="6.6" stroke="#0000ff" stroke-width="1.45" fill="none"/>
<path d="M340.2,185.0V187.4M337.4,185.0H343.0M337.4,187.4H343.0" stroke="#0000ff" stroke-width="1.4" fill="none"/>
<rect x="336.9" y="182.9" width="6.6" height="6.6" stroke="#0000ff" stroke-width="1.45" fill="none"/>
<path d="M356.7,183.8V186.2M353.9,183.8H359.5M353.9,186.2H359.5" stroke="#0000ff" stroke-width="1.4" fill="none"/>
<rect x="353.4" y="181.7" width="6.6" height="6.6" stroke="#0000ff" stroke-width="1.45" fill="none"/>
<path d="M92.7,276.0 L93.7,276.1 L94.7,276.2 L95.7,276.3 L96.7,276.4 L97.7,276.5 L98.7,276.6 L99.7,276.7 L100.7,276.7 L101.7,276.8 L102.7,276.8 L103.7,276.9 L104.7,276.9 L105.7,277.0 L106.7,277.0 L107.7,277.0 L108.7,277.0 L109.7,277.0 L110.7,277.0 L111.7,277.0 L112.7,276.9 L113.7,276.9 L114.7,276.8 L115.7,276.8 L116.7,276.7 L117.7,276.7 L118.7,276.6 L119.7,276.6 L120.7,276.5 L121.7,276.4 L122.7,276.4 L123.7,276.3 L124.7,276.2 L125.7,276.2 L126.7,276.2 L127.7,276.1 L128.7,276.1 L129.7,276.0 L130.7,276.0 L131.7,276.0 L132.7,275.9 L133.7,275.9 L134.7,275.9 L135.7,275.8 L136.7,275.8 L137.7,275.7 L138.7,275.7 L139.7,275.6 L140.7,275.6 L141.7,275.5 L142.7,275.5 L143.7,275.4 L144.7,275.3 L145.7,275.2 L146.7,275.0 L147.7,274.9 L148.7,274.7 L149.7,274.6 L150.7,274.4 L151.7,274.2 L152.7,274.0 L153.7,273.9 L154.7,273.7 L155.7,273.5 L156.7,273.3 L157.7,273.2 L158.7,273.0 L159.7,272.8 L160.7,272.7 L161.7,272.6 L162.7,272.4 L163.7,272.3 L164.7,272.2 L165.7,272.0 L166.7,271.9 L167.7,271.8 L168.7,271.6 L169.7,271.4 L170.7,271.3 L171.7,271.1 L172.7,270.8 L173.7,270.6 L174.7,270.3 L175.7,270.0 L176.7,269.6 L177.7,269.0 L178.7,268.3 L179.7,267.5 L180.7,266.6 L181.7,265.5 L182.7,264.5 L183.7,263.3 L184.7,262.1 L185.7,260.8 L186.7,259.5 L187.7,258.2 L188.7,256.9 L189.7,255.6 L190.7,254.3 L191.7,253.0 L192.7,251.7 L193.7,250.3 L194.7,248.8 L195.7,247.2 L196.7,245.6 L197.7,243.9 L198.7,242.2 L199.7,240.4 L200.7,238.7 L201.7,237.0 L202.7,235.3 L203.7,233.6 L204.7,232.0 L205.7,230.4 L206.7,229.0 L207.7,227.6 L208.7,226.4 L209.7,225.2 L210.7,224.0 L211.7,222.8 L212.7,221.7 L213.7,220.6 L214.7,219.5 L215.7,218.5 L216.7,217.5 L217.7,216.5 L218.7,215.5 L219.7,214.5 L220.7,213.6 L221.7,212.7 L222.7,211.8 L223.7,210.9 L224.7,210.0 L225.7,209.1 L226.7,208.3 L227.7,207.4 L228.7,206.6 L229.7,205.8 L230.7,205.0 L231.7,204.2 L232.7,203.4 L233.7,202.6 L234.7,201.9 L235.7,201.2 L236.7,200.5 L237.7,199.8 L238.7,199.1 L239.7,198.4 L240.7,197.8 L241.7,197.2 L242.7,196.6 L243.7,196.0 L244.7,195.3 L245.7,194.7 L246.7,194.1 L247.7,193.5 L248.7,193.0 L249.7,192.4 L250.7,191.9 L251.7,191.4 L252.7,190.9 L253.7,190.4 L254.7,190.0 L255.7,189.6 L256.7,189.3 L257.7,189.0 L258.7,188.7 L259.7,188.5 L260.7,188.3 L261.7,188.1 L262.7,187.9 L263.7,187.7 L264.7,187.6 L265.7,187.4 L266.7,187.3 L267.7,187.1 L268.7,187.0 L269.7,186.8 L270.7,186.7 L271.7,186.5 L272.7,186.3 L273.7,186.1 L274.7,185.9 L275.7,185.6 L276.7,185.4 L277.7,185.1 L278.7,184.7 L279.7,184.4 L280.7,184.1 L281.7,183.7 L282.7,183.4 L283.7,183.1 L284.7,182.8 L285.7,182.5 L286.7,182.3 L287.7,182.1 L288.7,181.9 L289.7,181.8 L290.7,181.8 L291.7,181.8 L292.7,181.8 L293.7,181.8 L294.7,181.8 L295.7,181.8 L296.7,181.9 L297.7,181.9 L298.7,181.9 L299.7,181.9 L300.7,181.9 L301.7,181.9 L302.7,182.0 L303.7,182.0 L304.7,182.0 L305.7,182.0 L306.7,182.0 L307.7,182.0 L308.7,181.9 L309.7,181.8 L310.7,181.6 L311.7,181.3 L312.7,181.1 L313.7,180.8 L314.7,180.4 L315.7,180.1 L316.7,179.8 L317.7,179.5 L318.7,179.2 L319.7,178.9 L320.7,178.7 L321.7,178.5 L322.7,178.4 L323.7,178.4 L324.7,178.4 L325.7,178.4 L326.7,178.5 L327.7,178.6 L328.7,178.6 L329.7,178.7 L330.7,178.8 L331.7,178.9 L332.7,179.1 L333.7,179.2 L334.7,179.3 L335.7,179.5 L336.7,179.6 L337.7,179.7 L338.7,179.8 L339.7,179.9 L340.7,180.1 L341.7,180.2 L342.7,180.3 L343.7,180.5 L344.7,180.6 L345.7,180.8 L346.7,180.9 L347.7,181.1 L348.7,181.3 L349.7,181.4 L350.7,181.5 L351.7,181.7 L352.7,181.8 L353.7,181.9 L354.7,181.9 L355.7,182.0 L356.7,182.0 L357.7,182.0 L358.7,182.0 L359.7,181.9 L360.7,181.8 L361.7,181.7 L362.7,181.6 L363.7,181.5 L364.7,181.4 L365.7,181.2 L366.7,181.0 L367.7,180.8 L368.7,180.6" stroke="#006400" stroke-width="1.9" fill="none"/>
<path d="M92.7,275.5V276.5M89.9,275.5H95.5M89.9,276.5H95.5" stroke="#006400" stroke-width="1.4" fill="none"/>
<circle cx="92.7" cy="276.0" r="3.3" stroke="#006400" stroke-width="1.45" fill="none"/>
<path d="M109.2,276.5V277.5M106.4,276.5H112.0M106.4,277.5H112.0" stroke="#006400" stroke-width="1.4" fill="none"/>
<circle cx="109.2" cy="277.0" r="3.3" stroke="#006400" stroke-width="1.45" fill="none"/>
<path d="M125.7,275.7V276.7M122.9,275.7H128.5M122.9,276.7H128.5" stroke="#006400" stroke-width="1.4" fill="none"/>
<circle cx="125.7" cy="276.2" r="3.3" stroke="#006400" stroke-width="1.45" fill="none"/>
<path d="M142.2,275.0V276.0M139.4,275.0H145.0M139.4,276.0H145.0" stroke="#006400" stroke-width="1.4" fill="none"/>
<circle cx="142.2" cy="275.5" r="3.3" stroke="#006400" stroke-width="1.45" fill="none"/>
<path d="M158.7,272.5V273.5M155.9,272.5H161.5M155.9,273.5H161.5" stroke="#006400" stroke-width="1.4" fill="none"/>
<circle cx="158.7" cy="273.0" r="3.3" stroke="#006400" stroke-width="1.45" fill="none"/>
<path d="M175.2,269.7V270.7M172.4,269.7H178.0M172.4,270.7H178.0" stroke="#006400" stroke-width="1.4" fill="none"/>
<circle cx="175.2" cy="270.2" r="3.3" stroke="#006400" stroke-width="1.45" fill="none"/>
<path d="M191.7,251.5V254.5M188.9,251.5H194.5M188.9,254.5H194.5" stroke="#006400" stroke-width="1.4" fill="none"/>
<circle cx="191.7" cy="253.0" r="3.3" stroke="#006400" stroke-width="1.45" fill="none"/>
<path d="M208.2,225.5V228.5M205.4,225.5H211.0M205.4,228.5H211.0" stroke="#006400" stroke-width="1.4" fill="none"/>
<circle cx="208.2" cy="227.0" r="3.3" stroke="#006400" stroke-width="1.45" fill="none"/>
<path d="M224.7,208.8V211.2M221.9,208.8H227.5M221.9,211.2H227.5" stroke="#006400" stroke-width="1.4" fill="none"/>
<circle cx="224.7" cy="210.0" r="3.3" stroke="#006400" stroke-width="1.45" fill="none"/>
<path d="M241.2,196.3V198.7M238.4,196.3H244.0M238.4,198.7H244.0" stroke="#006400" stroke-width="1.4" fill="none"/>
<circle cx="241.2" cy="197.5" r="3.3" stroke="#006400" stroke-width="1.45" fill="none"/>
<path d="M257.7,187.8V190.2M254.9,187.8H260.5M254.9,190.2H260.5" stroke="#006400" stroke-width="1.4" fill="none"/>
<circle cx="257.7" cy="189.0" r="3.3" stroke="#006400" stroke-width="1.45" fill="none"/>
<path d="M274.2,184.8V187.2M271.4,184.8H277.0M271.4,187.2H277.0" stroke="#006400" stroke-width="1.4" fill="none"/>
<circle cx="274.2" cy="186.0" r="3.3" stroke="#006400" stroke-width="1.45" fill="none"/>
<path d="M290.7,180.6V183.0M287.9,180.6H293.5M287.9,183.0H293.5" stroke="#006400" stroke-width="1.4" fill="none"/>
<circle cx="290.7" cy="181.8" r="3.3" stroke="#006400" stroke-width="1.45" fill="none"/>
<path d="M307.2,180.8V183.2M304.4,180.8H310.0M304.4,183.2H310.0" stroke="#006400" stroke-width="1.4" fill="none"/>
<circle cx="307.2" cy="182.0" r="3.3" stroke="#006400" stroke-width="1.45" fill="none"/>
<path d="M323.7,177.2V179.6M320.9,177.2H326.5M320.9,179.6H326.5" stroke="#006400" stroke-width="1.4" fill="none"/>
<circle cx="323.7" cy="178.4" r="3.3" stroke="#006400" stroke-width="1.45" fill="none"/>
<path d="M340.2,178.8V181.2M337.4,178.8H343.0M337.4,181.2H343.0" stroke="#006400" stroke-width="1.4" fill="none"/>
<circle cx="340.2" cy="180.0" r="3.3" stroke="#006400" stroke-width="1.45" fill="none"/>
<path d="M356.7,180.8V183.2M353.9,180.8H359.5M353.9,183.2H359.5" stroke="#006400" stroke-width="1.4" fill="none"/>
<circle cx="356.7" cy="182.0" r="3.3" stroke="#006400" stroke-width="1.45" fill="none"/>
</g>
<path d="M92.70,16.5v19.5M92.70,138.1v39.0M92.70,297.6v-19.5M109.20,16.5v9.7M109.20,147.9v19.4M109.20,297.6v-9.7M125.70,16.5v9.7M125.70,147.9v19.4M125.70,297.6v-9.7M142.20,16.5v9.7M142.20,147.9v19.4M142.20,297.6v-9.7M158.70,16.5v9.7M158.70,147.9v19.4M158.70,297.6v-9.7M175.20,16.5v19.5M175.20,138.1v39.0M175.20,297.6v-19.5M191.70,16.5v9.7M191.70,147.9v19.4M191.70,297.6v-9.7M208.20,16.5v9.7M208.20,147.9v19.4M208.20,297.6v-9.7M224.70,16.5v9.7M224.70,147.9v19.4M224.70,297.6v-9.7M241.20,16.5v9.7M241.20,147.9v19.4M241.20,297.6v-9.7M257.70,16.5v19.5M257.70,138.1v39.0M257.70,297.6v-19.5M274.20,16.5v9.7M274.20,147.9v19.4M274.20,297.6v-9.7M290.70,16.5v9.7M290.70,147.9v19.4M290.70,297.6v-9.7M307.20,16.5v9.7M307.20,147.9v19.4M307.20,297.6v-9.7M323.70,16.5v9.7M323.70,147.9v19.4M323.70,297.6v-9.7M340.20,16.5v19.5M340.20,138.1v39.0M340.20,297.6v-19.5M356.70,16.5v9.7M356.70,147.9v19.4M356.70,297.6v-9.7M72.4,144.30h19.5M369.3,144.30h-19.5M72.4,131.50h9.7M369.3,131.50h-9.7M72.4,118.70h9.7M369.3,118.70h-9.7M72.4,105.90h9.7M369.3,105.90h-9.7M72.4,93.10h9.7M369.3,93.10h-9.7M72.4,80.30h19.5M369.3,80.30h-19.5M72.4,67.50h9.7M369.3,67.50h-9.7M72.4,54.70h9.7M369.3,54.70h-9.7M72.4,41.90h9.7M369.3,41.90h-9.7M72.4,29.10h9.7M369.3,29.10h-9.7M72.4,16.30h19.5M369.3,16.30h-19.5M72.4,290.12h9.7M369.3,290.12h-9.7M72.4,275.36h9.7M369.3,275.36h-9.7M72.4,260.60h19.5M369.3,260.60h-19.5M72.4,245.84h9.7M369.3,245.84h-9.7M72.4,231.08h9.7M369.3,231.08h-9.7M72.4,216.32h9.7M369.3,216.32h-9.7M72.4,201.56h9.7M369.3,201.56h-9.7M72.4,186.80h19.5M369.3,186.80h-19.5M72.4,172.04h9.7M369.3,172.04h-9.7" stroke="#000" stroke-width="1.25" fill="none"/>
<rect x="72.4" y="16.5" width="296.9" height="281.1" stroke="#000" stroke-width="1.6" fill="none"/>
<path d="M72.4,157.6H369.3" stroke="#000" stroke-width="1.6"/>
<g font-family="'Liberation Sans', sans-serif" fill="#000">
<text x="63.8" y="23.4" font-size="19.3" text-anchor="end" letter-spacing="0.5">5</text>
<text x="63.8" y="87.2" font-size="19.3" text-anchor="end" letter-spacing="0.5">2.5</text>
<text x="63.8" y="151.2" font-size="19.3" text-anchor="end" letter-spacing="0.5">0</text>
<text x="63.8" y="193.7" font-size="19.3" text-anchor="end" letter-spacing="0.5">20</text>
<text x="63.8" y="267.5" font-size="19.3" text-anchor="end" letter-spacing="0.5">10</text>
<text x="95.9" y="319" font-size="19.3" text-anchor="middle" letter-spacing="0.7">0</text>
<text x="178.39999999999998" y="319" font-size="19.3" text-anchor="middle" letter-spacing="0.7">2000</text>
<text x="260.9" y="319" font-size="19.3" text-anchor="middle" letter-spacing="0.7">4000</text>
<text x="343.4" y="319" font-size="19.3" text-anchor="middle" letter-spacing="0.7">6000</text>
<text x="213.8" y="345.3" font-size="19.3" text-anchor="start" letter-spacing="1.3">t*</text>
<text x="102.4" y="66.4" font-size="22.6" text-anchor="start" >(a)</text>
<text x="102.4" y="206.4" font-size="22.6" text-anchor="start" >(b)</text>
<text transform="translate(28.2,108.9) rotate(-90) scale(1.06,1)" font-size="19.3">&lt;</text>
<text transform="translate(26.2,95.7) rotate(-90) scale(0.8,1)" font-size="21" font-family="'Liberation Serif', serif">Γ</text>
<text transform="translate(24.4,84.5) rotate(-90)" font-size="18">*</text>
<text transform="translate(28.2,76.3) rotate(-90) scale(1.04,1)" font-size="19.3">&gt;</text>
<text transform="translate(34.5,249.9) rotate(-90) scale(1.1,1)" font-size="19.3">&lt;</text>
<text transform="translate(32.5,236.2) rotate(-90)" font-size="19.3">h</text>
<text transform="translate(30.8,226.3) rotate(-90)" font-size="17.5">*</text>
<text transform="translate(34.5,218.8) rotate(-90) scale(1.08,1)" font-size="19.3">&gt;</text>
<g transform="translate(240.90,89.80)" fill="none" stroke="#000" stroke-linecap="round" stroke-linejoin="round"><path d="M0.3,-5.0C0.8,-6.5 2.0,-6.6 2.6,-4.9L3.75,-0.7" stroke-width="1.05"/><path d="M6.15,-6.3L3.75,-0.7C3.2,0.7 2.7,2.5 3.35,2.55C3.95,2.55 4.1,0.7 3.75,-0.7" stroke-width="0.6"/></g>
<text transform="translate(246.50,86.30) scale(1.0,1)" font-size="8.2" font-family="'Liberation Sans', sans-serif">*</text>
<text transform="translate(245.50,93.70) scale(1.23,1)" font-size="8.3" font-family="'Liberation Sans', sans-serif">sol</text>
<path d="M261.90,85.60h6.2M261.90,88.00h6.2" stroke="#000" stroke-width="0.95" fill="none"/>
<g transform="translate(272.70,89.80)" fill="none" stroke="#000" stroke-linecap="round" stroke-linejoin="round"><path d="M0.3,-5.0C0.8,-6.5 2.0,-6.6 2.6,-4.9L3.75,-0.7" stroke-width="1.05"/><path d="M6.15,-6.3L3.75,-0.7C3.2,0.7 2.7,2.5 3.35,2.55C3.95,2.55 4.1,0.7 3.75,-0.7" stroke-width="0.6"/></g>
<text transform="translate(278.30,86.30) scale(1.0,1)" font-size="8.2" font-family="'Liberation Sans', sans-serif">*</text>
<text transform="translate(279.10,93.70) scale(1.0,1)" font-size="8.3" font-family="'Liberation Sans', sans-serif">TT</text>
<path d="M294.30,85.60h6.2M294.30,88.00h6.2" stroke="#000" stroke-width="0.95" fill="none"/>
<text transform="translate(304.10,89.80) scale(1.18,1)" font-size="10.2" font-family="'Liberation Sans', sans-serif">2</text>
<g transform="translate(209.60,111.30)" fill="none" stroke="#000" stroke-linecap="round" stroke-linejoin="round"><path d="M0.3,-5.0C0.8,-6.5 2.0,-6.6 2.6,-4.9L3.75,-0.7" stroke-width="1.05"/><path d="M6.15,-6.3L3.75,-0.7C3.2,0.7 2.7,2.5 3.35,2.55C3.95,2.55 4.1,0.7 3.75,-0.7" stroke-width="0.6"/></g>
<text transform="translate(215.20,107.80) scale(1.0,1)" font-size="8.2" font-family="'Liberation Sans', sans-serif">*</text>
<text transform="translate(214.20,115.20) scale(1.23,1)" font-size="8.3" font-family="'Liberation Sans', sans-serif">sol</text>
<path d="M231.20,107.10h6.2M231.20,109.50h6.2" stroke="#000" stroke-width="0.95" fill="none"/>
<text transform="translate(241.90,111.30) scale(1.18,1)" font-size="10.2" font-family="'Liberation Sans', sans-serif">24.5,</text>
<g transform="translate(272.50,111.30)" fill="none" stroke="#000" stroke-linecap="round" stroke-linejoin="round"><path d="M0.3,-5.0C0.8,-6.5 2.0,-6.6 2.6,-4.9L3.75,-0.7" stroke-width="1.05"/><path d="M6.15,-6.3L3.75,-0.7C3.2,0.7 2.7,2.5 3.35,2.55C3.95,2.55 4.1,0.7 3.75,-0.7" stroke-width="0.6"/></g>
<text transform="translate(278.10,107.80) scale(1.0,1)" font-size="8.2" font-family="'Liberation Sans', sans-serif">*</text>
<text transform="translate(278.90,115.20) scale(1.0,1)" font-size="8.3" font-family="'Liberation Sans', sans-serif">TT</text>
<path d="M294.30,107.10h6.2M294.30,109.50h6.2" stroke="#000" stroke-width="0.95" fill="none"/>
<text transform="translate(304.10,111.30) scale(1.18,1)" font-size="10.2" font-family="'Liberation Sans', sans-serif">2</text>
<g transform="translate(209.60,132.80)" fill="none" stroke="#000" stroke-linecap="round" stroke-linejoin="round"><path d="M0.3,-5.0C0.8,-6.5 2.0,-6.6 2.6,-4.9L3.75,-0.7" stroke-width="1.05"/><path d="M6.15,-6.3L3.75,-0.7C3.2,0.7 2.7,2.5 3.35,2.55C3.95,2.55 4.1,0.7 3.75,-0.7" stroke-width="0.6"/></g>
<text transform="translate(215.20,129.30) scale(1.0,1)" font-size="8.2" font-family="'Liberation Sans', sans-serif">*</text>
<text transform="translate(214.20,136.70) scale(1.23,1)" font-size="8.3" font-family="'Liberation Sans', sans-serif">sol</text>
<path d="M231.20,128.60h6.2M231.20,131.00h6.2" stroke="#000" stroke-width="0.95" fill="none"/>
<text transform="translate(241.90,132.80) scale(1.18,1)" font-size="10.2" font-family="'Liberation Sans', sans-serif">2,</text>
<g transform="translate(255.10,132.80)" fill="none" stroke="#000" stroke-linecap="round" stroke-linejoin="round"><path d="M0.3,-5.0C0.8,-6.5 2.0,-6.6 2.6,-4.9L3.75,-0.7" stroke-width="1.05"/><path d="M6.15,-6.3L3.75,-0.7C3.2,0.7 2.7,2.5 3.35,2.55C3.95,2.55 4.1,0.7 3.75,-0.7" stroke-width="0.6"/></g>
<text transform="translate(260.70,129.30) scale(1.0,1)" font-size="8.2" font-family="'Liberation Sans', sans-serif">*</text>
<text transform="translate(261.50,136.70) scale(1.0,1)" font-size="8.3" font-family="'Liberation Sans', sans-serif">TT</text>
<path d="M276.60,128.60h6.2M276.60,131.00h6.2" stroke="#000" stroke-width="0.95" fill="none"/>
<text transform="translate(286.70,132.80) scale(1.18,1)" font-size="10.2" font-family="'Liberation Sans', sans-serif">24.5</text>
<g transform="translate(240.90,222.50)" fill="none" stroke="#000" stroke-linecap="round" stroke-linejoin="round"><path d="M0.3,-5.0C0.8,-6.5 2.0,-6.6 2.6,-4.9L3.75,-0.7" stroke-width="1.05"/><path d="M6.15,-6.3L3.75,-0.7C3.2,0.7 2.7,2.5 3.35,2.55C3.95,2.55 4.1,0.7 3.75,-0.7" stroke-width="0.6"/></g>
<text transform="translate(246.50,219.00) scale(1.0,1)" font-size="8.2" font-family="'Liberation Sans', sans-serif">*</text>
<text transform="translate(245.50,226.40) scale(1.23,1)" font-size="8.3" font-family="'Liberation Sans', sans-serif">sol</text>
<path d="M261.90,218.30h6.2M261.90,220.70h6.2" stroke="#000" stroke-width="0.95" fill="none"/>
<g transform="translate(272.70,222.50)" fill="none" stroke="#000" stroke-linecap="round" stroke-linejoin="round"><path d="M0.3,-5.0C0.8,-6.5 2.0,-6.6 2.6,-4.9L3.75,-0.7" stroke-width="1.05"/><path d="M6.15,-6.3L3.75,-0.7C3.2,0.7 2.7,2.5 3.35,2.55C3.95,2.55 4.1,0.7 3.75,-0.7" stroke-width="0.6"/></g>
<text transform="translate(278.30,219.00) scale(1.0,1)" font-size="8.2" font-family="'Liberation Sans', sans-serif">*</text>
<text transform="translate(279.10,226.40) scale(1.0,1)" font-size="8.3" font-family="'Liberation Sans', sans-serif">TT</text>
<path d="M294.30,218.30h6.2M294.30,220.70h6.2" stroke="#000" stroke-width="0.95" fill="none"/>
<text transform="translate(304.10,222.50) scale(1.18,1)" font-size="10.2" font-family="'Liberation Sans', sans-serif">2</text>
<g transform="translate(209.60,244.00)" fill="none" stroke="#000" stroke-linecap="round" stroke-linejoin="round"><path d="M0.3,-5.0C0.8,-6.5 2.0,-6.6 2.6,-4.9L3.75,-0.7" stroke-width="1.05"/><path d="M6.15,-6.3L3.75,-0.7C3.2,0.7 2.7,2.5 3.35,2.55C3.95,2.55 4.1,0.7 3.75,-0.7" stroke-width="0.6"/></g>
<text transform="translate(215.20,240.50) scale(1.0,1)" font-size="8.2" font-family="'Liberation Sans', sans-serif">*</text>
<text transform="translate(214.20,247.90) scale(1.23,1)" font-size="8.3" font-family="'Liberation Sans', sans-serif">sol</text>
<path d="M231.20,239.80h6.2M231.20,242.20h6.2" stroke="#000" stroke-width="0.95" fill="none"/>
<text transform="translate(241.90,244.00) scale(1.18,1)" font-size="10.2" font-family="'Liberation Sans', sans-serif">24.5,</text>
<g transform="translate(272.50,244.00)" fill="none" stroke="#000" stroke-linecap="round" stroke-linejoin="round"><path d="M0.3,-5.0C0.8,-6.5 2.0,-6.6 2.6,-4.9L3.75,-0.7" stroke-width="1.05"/><path d="M6.15,-6.3L3.75,-0.7C3.2,0.7 2.7,2.5 3.35,2.55C3.95,2.55 4.1,0.7 3.75,-0.7" stroke-width="0.6"/></g>
<text transform="translate(278.10,240.50) scale(1.0,1)" font-size="8.2" font-family="'Liberation Sans', sans-serif">*</text>
<text transform="translate(278.90,247.90) scale(1.0,1)" font-size="8.3" font-family="'Liberation Sans', sans-serif">TT</text>
<path d="M294.30,239.80h6.2M294.30,242.20h6.2" stroke="#000" stroke-width="0.95" fill="none"/>
<text transform="translate(304.10,244.00) scale(1.18,1)" font-size="10.2" font-family="'Liberation Sans', sans-serif">2</text>
<g transform="translate(209.60,265.50)" fill="none" stroke="#000" stroke-linecap="round" stroke-linejoin="round"><path d="M0.3,-5.0C0.8,-6.5 2.0,-6.6 2.6,-4.9L3.75,-0.7" stroke-width="1.05"/><path d="M6.15,-6.3L3.75,-0.7C3.2,0.7 2.7,2.5 3.35,2.55C3.95,2.55 4.1,0.7 3.75,-0.7" stroke-width="0.6"/></g>
<text transform="translate(215.20,262.00) scale(1.0,1)" font-size="8.2" font-family="'Liberation Sans', sans-serif">*</text>
<text transform="translate(214.20,269.40) scale(1.23,1)" font-size="8.3" font-family="'Liberation Sans', sans-serif">sol</text>
<path d="M231.20,261.30h6.2M231.20,263.70h6.2" stroke="#000" stroke-width="0.95" fill="none"/>
<text transform="translate(241.90,265.50) scale(1.18,1)" font-size="10.2" font-family="'Liberation Sans', sans-serif">2,</text>
<g transform="translate(255.10,265.50)" fill="none" stroke="#000" stroke-linecap="round" stroke-linejoin="round"><path d="M0.3,-5.0C0.8,-6.5 2.0,-6.6 2.6,-4.9L3.75,-0.7" stroke-width="1.05"/><path d="M6.15,-6.3L3.75,-0.7C3.2,0.7 2.7,2.5 3.35,2.55C3.95,2.55 4.1,0.7 3.75,-0.7" stroke-width="0.6"/></g>
<text transform="translate(260.70,262.00) scale(1.0,1)" font-size="8.2" font-family="'Liberation Sans', sans-serif">*</text>
<text transform="translate(261.50,269.40) scale(1.0,1)" font-size="8.3" font-family="'Liberation Sans', sans-serif">TT</text>
<path d="M276.60,261.30h6.2M276.60,263.70h6.2" stroke="#000" stroke-width="0.95" fill="none"/>
<text transform="translate(286.70,265.50) scale(1.18,1)" font-size="10.2" font-family="'Liberation Sans', sans-serif">24.5</text>
</g>
<path d="M319.3,86.9H361M319.3,83.9v6M361,83.9v6" stroke="#ff0000" stroke-width="1.6" fill="none"/>
<path d="M336.6,83.6L343.2,90.2M336.6,90.2L343.2,83.6" stroke="#ff0000" stroke-width="1.45" fill="none"/>
<path d="M319.3,108.4H361M319.3,105.4v6M361,105.4v6" stroke="#0000ff" stroke-width="1.6" fill="none"/>
<rect x="336.6" y="105.1" width="6.6" height="6.6" stroke="#0000ff" stroke-width="1.45" fill="none"/>
<path d="M319.3,129.9H361M319.3,126.9v6M361,126.9v6" stroke="#006400" stroke-width="1.6" fill="none"/>
<circle cx="339.9" cy="129.9" r="3.3" stroke="#006400" stroke-width="1.45" fill="none"/>
<path d="M319.3,219.6H361M319.3,216.6v6M361,216.6v6" stroke="#ff0000" stroke-width="1.6" fill="none"/>
<path d="M336.6,216.3L343.2,222.9M336.6,222.9L343.2,216.3" stroke="#ff0000" stroke-width="1.45" fill="none"/>
<path d="M319.3,241.1H361M319.3,238.1v6M361,238.1v6" stroke="#0000ff" stroke-width="1.6" fill="none"/>
<rect x="336.6" y="237.8" width="6.6" height="6.6" stroke="#0000ff" stroke-width="1.45" fill="none"/>
<path d="M319.3,262.6H361M319.3,259.6v6M361,259.6v6" stroke="#006400" stroke-width="1.6" fill="none"/>
<circle cx="339.9" cy="262.6" r="3.3" stroke="#006400" stroke-width="1.45" fill="none"/>
</svg>
</body></html>
